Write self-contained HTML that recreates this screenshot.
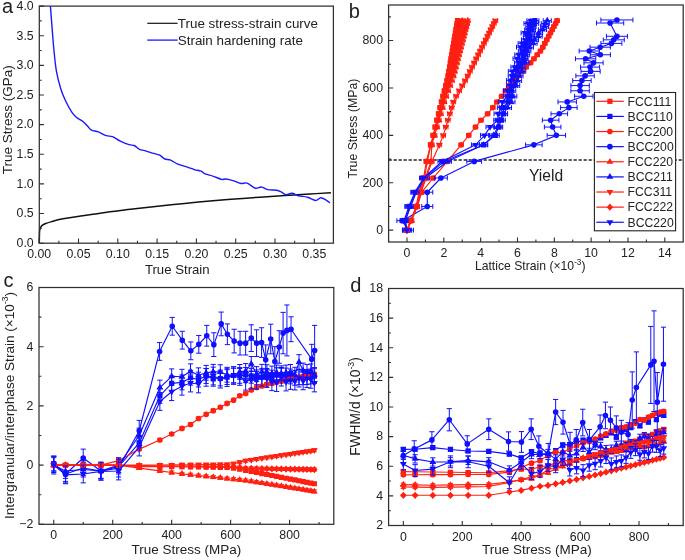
<!DOCTYPE html><html><head><meta charset="utf-8"><style>html,body{margin:0;padding:0;background:#fff;}svg{display:block;will-change:transform;}</style></head><body>
<svg width="685" height="560" viewBox="0 0 685 560" font-family='"Liberation Sans", sans-serif' fill="#222">
<rect width="685" height="560" fill="#fff"/>
<path d="M39.3 243.2C39.32 242 39.35 238.02 39.4 236C39.45 233.98 39.5 232.27 39.6 231.1C39.7 229.93 39.83 229.62 40 229C40.17 228.38 40.35 227.9 40.6 227.4C40.85 226.9 41.13 226.4 41.5 226C41.87 225.6 42.08 225.42 42.8 225C43.52 224.58 44.33 224.07 45.8 223.5C47.27 222.93 49.57 222.22 51.6 221.6C53.63 220.98 55.57 220.37 58 219.8C60.43 219.23 62.4 218.85 66.2 218.2C70 217.55 75.93 216.62 80.8 215.9C85.67 215.18 90.53 214.58 95.4 213.9C100.27 213.22 105.13 212.47 110 211.8C114.87 211.13 120.43 210.42 124.6 209.9C128.77 209.38 129.1 209.37 135 208.7C140.9 208.03 151.73 206.78 160 205.9C168.27 205.02 176.27 204.2 184.6 203.4C192.93 202.6 201.6 201.83 210 201.1C218.4 200.37 226.67 199.65 235 199C243.33 198.35 251.67 197.78 260 197.2C268.33 196.62 276.67 196.03 285 195.5C293.33 194.97 302.35 194.47 310 194C317.65 193.53 327.42 192.92 330.9 192.7" fill="none" stroke="#111" stroke-width="1.5" stroke-linejoin="round"/>
<path d="M50.4 6.1C50.68 9.73 51.52 20.62 52.1 27.9C52.68 35.18 53.17 42.5 53.9 49.8C54.63 57.1 55.33 65.13 56.5 71.7C57.67 78.27 59.43 84.45 60.9 89.2C62.37 93.95 63.48 96.37 65.3 100.2C67.12 104.03 70.02 109.4 71.8 112.2C73.58 115 74.63 115.77 76 117C77.37 118.23 78.75 118.78 80 119.6C81.25 120.42 82.18 120.73 83.5 121.9C84.82 123.07 86.58 125.23 87.9 126.6C89.22 127.97 89.65 129.22 91.4 130.1C93.15 130.98 95.92 130.97 98.4 131.9C100.88 132.83 103.97 134.92 106.3 135.7C108.63 136.48 110.07 135.68 112.4 136.6C114.73 137.52 117.53 139.85 120.3 141.2C123.07 142.55 126.67 143.98 129 144.7C131.33 145.42 132.55 144.72 134.3 145.5C136.05 146.28 137.75 148.55 139.5 149.4C141.25 150.25 142.45 149.93 144.8 150.6C147.15 151.27 151.12 152.63 153.6 153.4C156.08 154.17 157.82 154.27 159.7 155.2C161.58 156.13 163.15 158.22 164.9 159C166.65 159.78 168.15 159.08 170.2 159.9C172.25 160.72 174.72 162.82 177.2 163.9C179.68 164.98 182.62 165.6 185.1 166.4C187.58 167.2 190.45 168.13 192.1 168.7C193.75 169.27 193.5 169.38 195 169.8C196.5 170.22 199.4 170.52 201.1 171.2C202.8 171.88 203.15 173.05 205.2 173.9C207.25 174.75 210.67 175.38 213.4 176.3C216.13 177.22 219.55 178.95 221.6 179.4C223.65 179.85 223.67 178.77 225.7 179C227.73 179.23 231.25 180.05 233.8 180.8C236.35 181.55 238.78 183.12 241 183.5C243.22 183.88 244.72 182.32 247.1 183.1C249.48 183.88 252.92 187.55 255.3 188.2C257.68 188.85 259.35 186.77 261.4 187C263.45 187.23 265.05 189.07 267.6 189.6C270.15 190.13 274.5 189.85 276.7 190.2C278.9 190.55 279.27 190.95 280.8 191.7C282.33 192.45 284.02 194.43 285.9 194.7C287.78 194.97 290.05 193.12 292.1 193.3C294.15 193.48 295.65 195.15 298.2 195.8C300.75 196.45 304.5 196.42 307.4 197.2C310.3 197.98 313.38 200.4 315.6 200.5C317.82 200.6 319 197.9 320.7 197.8C322.4 197.7 324.27 199.05 325.8 199.9C327.33 200.75 329.22 202.4 329.9 202.9" fill="none" stroke="#1a1aff" stroke-width="1.4" stroke-linejoin="round"/>
<rect x="39.3" y="6.1" width="294.1" height="237.1" fill="none" stroke="#303030" stroke-width="1.25"/>
<path d="M39.2 243.2v-4.6 M78.5 243.2v-4.6 M117.8 243.2v-4.6 M157.1 243.2v-4.6 M196.4 243.2v-4.6 M235.7 243.2v-4.6 M275 243.2v-4.6 M314.3 243.2v-4.6 M58.85 243.2v-2.4 M98.15 243.2v-2.4 M137.45 243.2v-2.4 M176.75 243.2v-2.4 M216.05 243.2v-2.4 M255.35 243.2v-2.4 M294.65 243.2v-2.4 M39.3 243.2h4.6 M39.3 213.56h4.6 M39.3 183.92h4.6 M39.3 154.29h4.6 M39.3 124.65h4.6 M39.3 95.01h4.6 M39.3 65.38h4.6 M39.3 35.74h4.6 M39.3 6.1h4.6 M39.3 228.38h2.4 M39.3 198.74h2.4 M39.3 169.11h2.4 M39.3 139.47h2.4 M39.3 109.83h2.4 M39.3 80.19h2.4 M39.3 50.56h2.4 M39.3 20.92h2.4" stroke="#303030" stroke-width="1.1" fill="none"/>
<text x="39.2" y="257.8" text-anchor="middle" font-size="12.3">0.00</text>
<text x="78.5" y="257.8" text-anchor="middle" font-size="12.3">0.05</text>
<text x="117.8" y="257.8" text-anchor="middle" font-size="12.3">0.10</text>
<text x="157.1" y="257.8" text-anchor="middle" font-size="12.3">0.15</text>
<text x="196.4" y="257.8" text-anchor="middle" font-size="12.3">0.20</text>
<text x="235.7" y="257.8" text-anchor="middle" font-size="12.3">0.25</text>
<text x="275" y="257.8" text-anchor="middle" font-size="12.3">0.30</text>
<text x="314.3" y="257.8" text-anchor="middle" font-size="12.3">0.35</text>
<text x="33.7" y="247" text-anchor="end" font-size="12.3">0.0</text>
<text x="33.7" y="217.36" text-anchor="end" font-size="12.3">0.5</text>
<text x="33.7" y="187.72" text-anchor="end" font-size="12.3">1.0</text>
<text x="33.7" y="158.09" text-anchor="end" font-size="12.3">1.5</text>
<text x="33.7" y="128.45" text-anchor="end" font-size="12.3">2.0</text>
<text x="33.7" y="98.81" text-anchor="end" font-size="12.3">2.5</text>
<text x="33.7" y="69.17" text-anchor="end" font-size="12.3">3.0</text>
<text x="33.7" y="39.54" text-anchor="end" font-size="12.3">3.5</text>
<text x="33.7" y="9.9" text-anchor="end" font-size="12.3">4.0</text>
<path d="M147.3 23.3h30.3" stroke="#111" stroke-width="1.2"/>
<path d="M147.3 40.1h30.3" stroke="#1a1aff" stroke-width="1.3"/>
<text x="177.8" y="28.1" font-size="13.4">True stress-strain curve</text>
<text x="177.8" y="44.6" font-size="13.4">Strain hardening rate</text>
<text x="144.9" y="274.3" font-size="13.2">True Strain</text>
<text transform="translate(11.6,119.8) rotate(-90)" text-anchor="middle" font-size="13.5">True Stress (GPa)</text>
<text x="2" y="12.6" font-size="20">a</text>
<path d="M388.6 159.9H683.2" stroke="#222" stroke-width="1.5" stroke-dasharray="3.2 1.8"/>
<text x="529" y="181.4" font-size="15.6">Yield</text>
<path d="M407.01 230.15L410.7 220.67L416.22 206.45L418.98 192.23L423.58 178.01L426.35 161.42L430.58 144.83L433.16 135.35L435.23 127.06L436.95 120.18L438.56 113.78L440.1 107.62L441.52 101.93L442.99 96.25L444.42 90.79L445.78 85.58L447.08 80.6L448.17 75.86L448.95 71.36L449.68 67.09L450.41 62.83L451.1 58.8L451.79 54.77L452.44 50.98L453.09 47.19L453.74 43.39L454.35 39.84L454.96 36.28L455.53 32.97L456.1 29.65L456.63 26.57L457.16 23.49L457.65 20.64" fill="none" stroke="#ff2012" stroke-width="1.15" stroke-linejoin="round"/>
<path d="M404.8 230.15H409.22M404.8 227.75v4.8M409.22 227.75v4.8M408.49 220.67H412.9M408.49 218.27v4.8M412.9 218.27v4.8M414.01 206.45H418.43M414.01 204.05v4.8M418.43 204.05v4.8M416.77 192.23H421.19M416.77 189.83v4.8M421.19 189.83v4.8M421.37 178.01H425.79M421.37 175.61v4.8M425.79 175.61v4.8M424.14 161.42H428.56M424.14 159.02v4.8M428.56 159.02v4.8M428.37 144.83H432.79M428.37 142.43v4.8M432.79 142.43v4.8M430.95 135.35H435.37M430.95 132.95v4.8M435.37 132.95v4.8M433.02 127.06H437.44M433.02 124.66v4.8M437.44 124.66v4.8M434.74 120.18H439.16M434.74 117.78v4.8M439.16 117.78v4.8M436.35 113.78H440.77M436.35 111.38v4.8M440.77 111.38v4.8M437.89 107.62H442.31M437.89 105.22v4.8M442.31 105.22v4.8M439.31 101.93H443.73M439.31 99.53v4.8M443.73 99.53v4.8M440.78 96.25H445.2M440.78 93.84v4.8M445.2 93.84v4.8M442.21 90.79H446.62M442.21 88.39v4.8M446.62 88.39v4.8M443.57 85.58H447.99M443.57 83.18v4.8M447.99 83.18v4.8M444.87 80.6H449.29M444.87 78.2v4.8M449.29 78.2v4.8M445.96 75.86H450.38M445.96 73.46v4.8M450.38 73.46v4.8M446.74 71.36H451.15M446.74 68.96v4.8M451.15 68.96v4.8M447.47 67.09H451.89M447.47 64.69v4.8M451.89 64.69v4.8M448.2 62.83H452.62M448.2 60.43v4.8M452.62 60.43v4.8M448.89 58.8H453.31M448.89 56.4v4.8M453.31 56.4v4.8M449.58 54.77H454M449.58 52.37v4.8M454 52.37v4.8M450.23 50.98H454.65M450.23 48.58v4.8M454.65 48.58v4.8M450.88 47.19H455.3M450.88 44.79v4.8M455.3 44.79v4.8M451.53 43.39H455.95M451.53 40.99v4.8M455.95 40.99v4.8M452.14 39.84H456.56M452.14 37.44v4.8M456.56 37.44v4.8M452.75 36.28H457.17M452.75 33.88v4.8M457.17 33.88v4.8M453.32 32.97H457.74M453.32 30.57v4.8M457.74 30.57v4.8M453.89 29.65H458.31M453.89 27.25v4.8M458.31 27.25v4.8M454.42 26.57H458.84M454.42 24.17v4.8M458.84 24.17v4.8M454.95 23.49H459.37M454.95 21.09v4.8M459.37 21.09v4.8M455.44 20.64H459.86M455.44 18.24v4.8M459.86 18.24v4.8" fill="none" stroke="#ff2012" stroke-width="1"/>
<path d="M404.41 227.55h5.2v5.2h-5.2zM408.1 218.07h5.2v5.2h-5.2zM413.62 203.85h5.2v5.2h-5.2zM416.38 189.63h5.2v5.2h-5.2zM420.98 175.41h5.2v5.2h-5.2zM423.75 158.82h5.2v5.2h-5.2zM427.98 142.23h5.2v5.2h-5.2zM430.56 132.75h5.2v5.2h-5.2zM432.63 124.46h5.2v5.2h-5.2zM434.35 117.58h5.2v5.2h-5.2zM435.96 111.18h5.2v5.2h-5.2zM437.5 105.02h5.2v5.2h-5.2zM438.92 99.33h5.2v5.2h-5.2zM440.39 93.65h5.2v5.2h-5.2zM441.82 88.19h5.2v5.2h-5.2zM443.18 82.98h5.2v5.2h-5.2zM444.48 78h5.2v5.2h-5.2zM445.57 73.26h5.2v5.2h-5.2zM446.35 68.76h5.2v5.2h-5.2zM447.08 64.49h5.2v5.2h-5.2zM447.81 60.23h5.2v5.2h-5.2zM448.5 56.2h5.2v5.2h-5.2zM449.19 52.17h5.2v5.2h-5.2zM449.84 48.38h5.2v5.2h-5.2zM450.49 44.59h5.2v5.2h-5.2zM451.14 40.79h5.2v5.2h-5.2zM451.75 37.24h5.2v5.2h-5.2zM452.36 33.68h5.2v5.2h-5.2zM452.93 30.37h5.2v5.2h-5.2zM453.5 27.05h5.2v5.2h-5.2zM454.03 23.97h5.2v5.2h-5.2zM454.56 20.89h5.2v5.2h-5.2zM455.05 18.04h5.2v5.2h-5.2z" fill="#ff2012"/>
<path d="M407.01 230.15L405.17 220.67L409.77 206.45L415.3 192.23L424.5 178.01L443.84 161.42L483.61 144.83L495.21 135.35L498.63 127.06L501.19 120.18L503.41 113.78L503.44 107.62L508.15 101.93L510.03 96.25L509.57 90.79L513.28 85.58L512.82 80.6L514.88 75.86L517.27 71.36L518.35 67.09L522.22 62.83L523.92 58.8L523.56 54.77L524.78 50.98L525.17 47.19L526.17 43.39L529.52 39.84L530.09 36.28L529 32.97L531.49 29.65L532.05 26.57L534.55 23.49L534.86 20.64" fill="none" stroke="#1010ff" stroke-width="1.15" stroke-linejoin="round"/>
<path d="M402.96 230.15H411.06M402.96 227.75v4.8M411.06 227.75v4.8M401.12 220.67H409.22M401.12 218.27v4.8M409.22 218.27v4.8M405.72 206.45H413.83M405.72 204.05v4.8M413.83 204.05v4.8M411.25 192.23H419.35M411.25 189.83v4.8M419.35 189.83v4.8M420.45 178.01H428.56M420.45 175.61v4.8M428.56 175.61v4.8M439.79 161.42H447.89M439.79 159.02v4.8M447.89 159.02v4.8M479.56 144.83H487.66M479.56 142.43v4.8M487.66 142.43v4.8M491.16 135.35H499.26M491.16 132.95v4.8M499.26 132.95v4.8M494.57 127.06H502.68M494.57 124.66v4.8M502.68 124.66v4.8M497.14 120.18H505.24M497.14 117.78v4.8M505.24 117.78v4.8M499.36 113.78H507.46M499.36 111.38v4.8M507.46 111.38v4.8M499.39 107.62H507.5M499.39 105.22v4.8M507.5 105.22v4.8M504.1 101.93H512.2M504.1 99.53v4.8M512.2 99.53v4.8M505.98 96.25H514.08M505.98 93.84v4.8M514.08 93.84v4.8M505.52 90.79H513.62M505.52 88.39v4.8M513.62 88.39v4.8M509.23 85.58H517.33M509.23 83.18v4.8M517.33 83.18v4.8M508.77 80.6H516.87M508.77 78.2v4.8M516.87 78.2v4.8M510.83 75.86H518.93M510.83 73.46v4.8M518.93 73.46v4.8M513.22 71.36H521.32M513.22 68.96v4.8M521.32 68.96v4.8M514.29 67.09H522.4M514.29 64.69v4.8M522.4 64.69v4.8M518.17 62.83H526.27M518.17 60.43v4.8M526.27 60.43v4.8M519.87 58.8H527.97M519.87 56.4v4.8M527.97 56.4v4.8M519.51 54.77H527.62M519.51 52.37v4.8M527.62 52.37v4.8M520.73 50.98H528.83M520.73 48.58v4.8M528.83 48.58v4.8M521.12 47.19H529.22M521.12 44.79v4.8M529.22 44.79v4.8M522.12 43.39H530.23M522.12 40.99v4.8M530.23 40.99v4.8M525.46 39.84H533.57M525.46 37.44v4.8M533.57 37.44v4.8M526.03 36.28H534.14M526.03 33.88v4.8M534.14 33.88v4.8M524.95 32.97H533.05M524.95 30.57v4.8M533.05 30.57v4.8M527.43 29.65H535.54M527.43 27.25v4.8M535.54 27.25v4.8M528 26.57H536.1M528 24.17v4.8M536.1 24.17v4.8M530.5 23.49H538.6M530.5 21.09v4.8M538.6 21.09v4.8M530.81 20.64H538.91M530.81 18.24v4.8M538.91 18.24v4.8" fill="none" stroke="#1010ff" stroke-width="1"/>
<path d="M404.41 227.55h5.2v5.2h-5.2zM402.57 218.07h5.2v5.2h-5.2zM407.17 203.85h5.2v5.2h-5.2zM412.7 189.63h5.2v5.2h-5.2zM421.9 175.41h5.2v5.2h-5.2zM441.24 158.82h5.2v5.2h-5.2zM481.01 142.23h5.2v5.2h-5.2zM492.61 132.75h5.2v5.2h-5.2zM496.03 124.46h5.2v5.2h-5.2zM498.59 117.58h5.2v5.2h-5.2zM500.81 111.18h5.2v5.2h-5.2zM500.84 105.02h5.2v5.2h-5.2zM505.55 99.33h5.2v5.2h-5.2zM507.43 93.65h5.2v5.2h-5.2zM506.97 88.19h5.2v5.2h-5.2zM510.68 82.98h5.2v5.2h-5.2zM510.22 78h5.2v5.2h-5.2zM512.28 73.26h5.2v5.2h-5.2zM514.67 68.76h5.2v5.2h-5.2zM515.75 64.49h5.2v5.2h-5.2zM519.62 60.23h5.2v5.2h-5.2zM521.32 56.2h5.2v5.2h-5.2zM520.96 52.17h5.2v5.2h-5.2zM522.18 48.38h5.2v5.2h-5.2zM522.57 44.59h5.2v5.2h-5.2zM523.57 40.79h5.2v5.2h-5.2zM526.92 37.24h5.2v5.2h-5.2zM527.49 33.68h5.2v5.2h-5.2zM526.4 30.37h5.2v5.2h-5.2zM528.89 27.05h5.2v5.2h-5.2zM529.45 23.97h5.2v5.2h-5.2zM531.95 20.89h5.2v5.2h-5.2zM532.26 18.04h5.2v5.2h-5.2z" fill="#1010ff"/>
<path d="M407.01 230.15L410.7 220.67L417.32 206.45L421.74 192.23L433.16 178.01L447.34 161.42L461.15 144.83L468.69 135.35L475.51 127.06L481.02 120.18L487.6 113.78L492.79 107.62L496.92 101.93L501.6 96.25L505.46 90.79L509.04 85.58L515.09 80.6L518.78 75.86L522.39 71.36L526.14 67.09L530.56 62.83L533.92 58.8L537.28 54.77L540.45 50.98L542.77 47.19L544.82 43.39L546.73 39.84L548.65 36.28L550.43 32.97L552.22 29.65L553.88 26.57L555.54 23.49L557.07 20.64" fill="none" stroke="#ff2012" stroke-width="1.15" stroke-linejoin="round"/>
<path d="M404.8 230.15H409.22M404.8 227.75v4.8M409.22 227.75v4.8M408.49 220.67H412.9M408.49 218.27v4.8M412.9 218.27v4.8M415.11 206.45H419.53M415.11 204.05v4.8M419.53 204.05v4.8M419.53 192.23H423.95M419.53 189.83v4.8M423.95 189.83v4.8M430.95 178.01H435.37M430.95 175.61v4.8M435.37 175.61v4.8M445.13 161.42H449.55M445.13 159.02v4.8M449.55 159.02v4.8M458.94 144.83H463.35M458.94 142.43v4.8M463.35 142.43v4.8M466.48 135.35H470.9M466.48 132.95v4.8M470.9 132.95v4.8M473.3 127.06H477.72M473.3 124.66v4.8M477.72 124.66v4.8M478.82 120.18H483.23M478.82 117.78v4.8M483.23 117.78v4.8M485.39 113.78H489.81M485.39 111.38v4.8M489.81 111.38v4.8M490.58 107.62H495M490.58 105.22v4.8M495 105.22v4.8M494.71 101.93H499.13M494.71 99.53v4.8M499.13 99.53v4.8M499.4 96.25H503.81M499.4 93.84v4.8M503.81 93.84v4.8M503.25 90.79H507.67M503.25 88.39v4.8M507.67 88.39v4.8M506.83 85.58H511.25M506.83 83.18v4.8M511.25 83.18v4.8M512.88 80.6H517.3M512.88 78.2v4.8M517.3 78.2v4.8M516.57 75.86H520.99M516.57 73.46v4.8M520.99 73.46v4.8M520.19 71.36H524.6M520.19 68.96v4.8M524.6 68.96v4.8M523.93 67.09H528.35M523.93 64.69v4.8M528.35 64.69v4.8M528.35 62.83H532.77M528.35 60.43v4.8M532.77 60.43v4.8M531.71 58.8H536.13M531.71 56.4v4.8M536.13 56.4v4.8M535.07 54.77H539.49M535.07 52.37v4.8M539.49 52.37v4.8M538.24 50.98H542.66M538.24 48.58v4.8M542.66 48.58v4.8M540.56 47.19H544.98M540.56 44.79v4.8M544.98 44.79v4.8M542.61 43.39H547.02M542.61 40.99v4.8M547.02 40.99v4.8M544.52 39.84H548.94M544.52 37.44v4.8M548.94 37.44v4.8M546.44 36.28H550.86M546.44 33.88v4.8M550.86 33.88v4.8M548.22 32.97H552.64M548.22 30.57v4.8M552.64 30.57v4.8M550.01 29.65H554.43M550.01 27.25v4.8M554.43 27.25v4.8M551.67 26.57H556.09M551.67 24.17v4.8M556.09 24.17v4.8M553.33 23.49H557.75M553.33 21.09v4.8M557.75 21.09v4.8M554.86 20.64H559.28M554.86 18.24v4.8M559.28 18.24v4.8" fill="none" stroke="#ff2012" stroke-width="1"/>
<path d="M404.21 230.15a2.8 2.8 0 1 0 5.6 0a2.8 2.8 0 1 0 -5.6 0zM407.9 220.67a2.8 2.8 0 1 0 5.6 0a2.8 2.8 0 1 0 -5.6 0zM414.52 206.45a2.8 2.8 0 1 0 5.6 0a2.8 2.8 0 1 0 -5.6 0zM418.94 192.23a2.8 2.8 0 1 0 5.6 0a2.8 2.8 0 1 0 -5.6 0zM430.36 178.01a2.8 2.8 0 1 0 5.6 0a2.8 2.8 0 1 0 -5.6 0zM444.54 161.42a2.8 2.8 0 1 0 5.6 0a2.8 2.8 0 1 0 -5.6 0zM458.35 144.83a2.8 2.8 0 1 0 5.6 0a2.8 2.8 0 1 0 -5.6 0zM465.89 135.35a2.8 2.8 0 1 0 5.6 0a2.8 2.8 0 1 0 -5.6 0zM472.71 127.06a2.8 2.8 0 1 0 5.6 0a2.8 2.8 0 1 0 -5.6 0zM478.22 120.18a2.8 2.8 0 1 0 5.6 0a2.8 2.8 0 1 0 -5.6 0zM484.8 113.78a2.8 2.8 0 1 0 5.6 0a2.8 2.8 0 1 0 -5.6 0zM489.99 107.62a2.8 2.8 0 1 0 5.6 0a2.8 2.8 0 1 0 -5.6 0zM494.12 101.93a2.8 2.8 0 1 0 5.6 0a2.8 2.8 0 1 0 -5.6 0zM498.8 96.25a2.8 2.8 0 1 0 5.6 0a2.8 2.8 0 1 0 -5.6 0zM502.66 90.79a2.8 2.8 0 1 0 5.6 0a2.8 2.8 0 1 0 -5.6 0zM506.24 85.58a2.8 2.8 0 1 0 5.6 0a2.8 2.8 0 1 0 -5.6 0zM512.29 80.6a2.8 2.8 0 1 0 5.6 0a2.8 2.8 0 1 0 -5.6 0zM515.98 75.86a2.8 2.8 0 1 0 5.6 0a2.8 2.8 0 1 0 -5.6 0zM519.59 71.36a2.8 2.8 0 1 0 5.6 0a2.8 2.8 0 1 0 -5.6 0zM523.34 67.09a2.8 2.8 0 1 0 5.6 0a2.8 2.8 0 1 0 -5.6 0zM527.76 62.83a2.8 2.8 0 1 0 5.6 0a2.8 2.8 0 1 0 -5.6 0zM531.12 58.8a2.8 2.8 0 1 0 5.6 0a2.8 2.8 0 1 0 -5.6 0zM534.48 54.77a2.8 2.8 0 1 0 5.6 0a2.8 2.8 0 1 0 -5.6 0zM537.65 50.98a2.8 2.8 0 1 0 5.6 0a2.8 2.8 0 1 0 -5.6 0zM539.97 47.19a2.8 2.8 0 1 0 5.6 0a2.8 2.8 0 1 0 -5.6 0zM542.02 43.39a2.8 2.8 0 1 0 5.6 0a2.8 2.8 0 1 0 -5.6 0zM543.93 39.84a2.8 2.8 0 1 0 5.6 0a2.8 2.8 0 1 0 -5.6 0zM545.85 36.28a2.8 2.8 0 1 0 5.6 0a2.8 2.8 0 1 0 -5.6 0zM547.63 32.97a2.8 2.8 0 1 0 5.6 0a2.8 2.8 0 1 0 -5.6 0zM549.42 29.65a2.8 2.8 0 1 0 5.6 0a2.8 2.8 0 1 0 -5.6 0zM551.08 26.57a2.8 2.8 0 1 0 5.6 0a2.8 2.8 0 1 0 -5.6 0zM552.74 23.49a2.8 2.8 0 1 0 5.6 0a2.8 2.8 0 1 0 -5.6 0zM554.27 20.64a2.8 2.8 0 1 0 5.6 0a2.8 2.8 0 1 0 -5.6 0z" fill="#ff2012"/>
<path d="M407.93 230.15L402.41 220.67L427.27 206.45L427.27 192.23L440.89 178.01L474.22 161.42L533.87 144.83L556.34 135.35L552.66 127.06L550.63 120.18L559.28 113.78L568.86 107.62L567.2 101.93L583.77 96.25L580.09 90.79L580.09 85.58L581.93 80.6L585.06 75.86L590.59 71.36L590.03 67.09L593.53 62.83L585.61 58.8L600.34 54.77L589.3 50.98L600.16 47.19L611.39 43.39L613.78 39.84L616.92 36.28L610.1 23.01L616.92 19.93" fill="none" stroke="#1010ff" stroke-width="1.15" stroke-linejoin="round"/>
<path d="M402.41 230.15H413.46M402.41 227.75v4.8M413.46 227.75v4.8M396.89 220.67H407.93M396.89 218.27v4.8M407.93 218.27v4.8M421.74 206.45H432.79M421.74 204.05v4.8M432.79 204.05v4.8M421.74 192.23H432.79M421.74 189.83v4.8M432.79 189.83v4.8M434.45 178.01H447.34M434.45 175.61v4.8M447.34 175.61v4.8M466.85 161.42H481.58M466.85 159.02v4.8M481.58 159.02v4.8M525.59 144.83H542.16M525.59 142.43v4.8M542.16 142.43v4.8M547.13 135.35H565.54M547.13 132.95v4.8M565.54 132.95v4.8M544.37 127.06H560.94M544.37 124.66v4.8M560.94 124.66v4.8M542.34 120.18H558.92M542.34 117.78v4.8M558.92 117.78v4.8M551 113.78H567.57M551 111.38v4.8M567.57 111.38v4.8M560.57 107.62H577.14M560.57 105.22v4.8M577.14 105.22v4.8M558 101.93H576.41M558 99.53v4.8M576.41 99.53v4.8M574.57 96.25H592.98M574.57 93.84v4.8M592.98 93.84v4.8M570.88 90.79H589.3M570.88 88.39v4.8M589.3 88.39v4.8M570.88 85.58H589.3M570.88 83.18v4.8M589.3 83.18v4.8M572.73 80.6H591.14M572.73 78.2v4.8M591.14 78.2v4.8M575.86 75.86H594.27M575.86 73.46v4.8M594.27 73.46v4.8M581.01 71.36H600.16M581.01 68.96v4.8M600.16 68.96v4.8M580.46 67.09H599.61M580.46 64.69v4.8M599.61 64.69v4.8M583.96 62.83H603.11M583.96 60.43v4.8M603.11 60.43v4.8M575.49 58.8H595.74M575.49 56.4v4.8M595.74 56.4v4.8M590.22 54.77H610.47M590.22 52.37v4.8M610.47 52.37v4.8M579.17 50.98H599.42M579.17 48.58v4.8M599.42 48.58v4.8M590.03 47.19H610.29M590.03 44.79v4.8M610.29 44.79v4.8M600.9 43.39H621.89M600.9 40.99v4.8M621.89 40.99v4.8M603.29 39.84H624.28M603.29 37.44v4.8M624.28 37.44v4.8M606.42 36.28H627.41M606.42 33.88v4.8M627.41 33.88v4.8M596.48 23.01H623.73M596.48 20.61v4.8M623.73 20.61v4.8M600.9 19.93H632.93M600.9 17.53v4.8M632.93 17.53v4.8" fill="none" stroke="#1010ff" stroke-width="1"/>
<path d="M405.13 230.15a2.8 2.8 0 1 0 5.6 0a2.8 2.8 0 1 0 -5.6 0zM399.61 220.67a2.8 2.8 0 1 0 5.6 0a2.8 2.8 0 1 0 -5.6 0zM424.47 206.45a2.8 2.8 0 1 0 5.6 0a2.8 2.8 0 1 0 -5.6 0zM424.47 192.23a2.8 2.8 0 1 0 5.6 0a2.8 2.8 0 1 0 -5.6 0zM438.09 178.01a2.8 2.8 0 1 0 5.6 0a2.8 2.8 0 1 0 -5.6 0zM471.42 161.42a2.8 2.8 0 1 0 5.6 0a2.8 2.8 0 1 0 -5.6 0zM531.07 144.83a2.8 2.8 0 1 0 5.6 0a2.8 2.8 0 1 0 -5.6 0zM553.54 135.35a2.8 2.8 0 1 0 5.6 0a2.8 2.8 0 1 0 -5.6 0zM549.86 127.06a2.8 2.8 0 1 0 5.6 0a2.8 2.8 0 1 0 -5.6 0zM547.83 120.18a2.8 2.8 0 1 0 5.6 0a2.8 2.8 0 1 0 -5.6 0zM556.48 113.78a2.8 2.8 0 1 0 5.6 0a2.8 2.8 0 1 0 -5.6 0zM566.06 107.62a2.8 2.8 0 1 0 5.6 0a2.8 2.8 0 1 0 -5.6 0zM564.4 101.93a2.8 2.8 0 1 0 5.6 0a2.8 2.8 0 1 0 -5.6 0zM580.97 96.25a2.8 2.8 0 1 0 5.6 0a2.8 2.8 0 1 0 -5.6 0zM577.29 90.79a2.8 2.8 0 1 0 5.6 0a2.8 2.8 0 1 0 -5.6 0zM577.29 85.58a2.8 2.8 0 1 0 5.6 0a2.8 2.8 0 1 0 -5.6 0zM579.13 80.6a2.8 2.8 0 1 0 5.6 0a2.8 2.8 0 1 0 -5.6 0zM582.26 75.86a2.8 2.8 0 1 0 5.6 0a2.8 2.8 0 1 0 -5.6 0zM587.79 71.36a2.8 2.8 0 1 0 5.6 0a2.8 2.8 0 1 0 -5.6 0zM587.23 67.09a2.8 2.8 0 1 0 5.6 0a2.8 2.8 0 1 0 -5.6 0zM590.73 62.83a2.8 2.8 0 1 0 5.6 0a2.8 2.8 0 1 0 -5.6 0zM582.81 58.8a2.8 2.8 0 1 0 5.6 0a2.8 2.8 0 1 0 -5.6 0zM597.54 54.77a2.8 2.8 0 1 0 5.6 0a2.8 2.8 0 1 0 -5.6 0zM586.5 50.98a2.8 2.8 0 1 0 5.6 0a2.8 2.8 0 1 0 -5.6 0zM597.36 47.19a2.8 2.8 0 1 0 5.6 0a2.8 2.8 0 1 0 -5.6 0zM608.59 43.39a2.8 2.8 0 1 0 5.6 0a2.8 2.8 0 1 0 -5.6 0zM610.98 39.84a2.8 2.8 0 1 0 5.6 0a2.8 2.8 0 1 0 -5.6 0zM614.12 36.28a2.8 2.8 0 1 0 5.6 0a2.8 2.8 0 1 0 -5.6 0zM607.3 23.01a2.8 2.8 0 1 0 5.6 0a2.8 2.8 0 1 0 -5.6 0zM614.12 19.93a2.8 2.8 0 1 0 5.6 0a2.8 2.8 0 1 0 -5.6 0z" fill="#1010ff"/>
<path d="M407.01 230.15L411.62 220.67L417.14 206.45L420.82 192.23L425.43 178.01L430.95 161.42L431.87 144.83L434.63 135.35L437.01 127.06L438.98 120.18L440.82 113.78L442.58 107.62L444.21 101.93L446.15 96.25L448.16 90.79L450.08 85.58L451.91 80.6L453.47 75.86L454.64 71.36L455.74 67.09L456.85 62.83L457.89 58.8L458.94 54.77L459.92 50.98L460.9 47.19L461.88 43.39L462.8 39.84L463.72 36.28L464.58 32.97L465.44 29.65L466.24 26.57L467.04 23.49L467.77 20.64" fill="none" stroke="#ff2012" stroke-width="1.15" stroke-linejoin="round"/>
<path d="M404.8 230.15H409.22M404.8 227.75v4.8M409.22 227.75v4.8M409.41 220.67H413.83M409.41 218.27v4.8M413.83 218.27v4.8M414.93 206.45H419.35M414.93 204.05v4.8M419.35 204.05v4.8M418.61 192.23H423.03M418.61 189.83v4.8M423.03 189.83v4.8M423.22 178.01H427.63M423.22 175.61v4.8M427.63 175.61v4.8M428.74 161.42H433.16M428.74 159.02v4.8M433.16 159.02v4.8M429.66 144.83H434.08M429.66 142.43v4.8M434.08 142.43v4.8M432.42 135.35H436.84M432.42 132.95v4.8M436.84 132.95v4.8M434.8 127.06H439.22M434.8 124.66v4.8M439.22 124.66v4.8M436.77 120.18H441.19M436.77 117.78v4.8M441.19 117.78v4.8M438.61 113.78H443.03M438.61 111.38v4.8M443.03 111.38v4.8M440.37 107.62H444.79M440.37 105.22v4.8M444.79 105.22v4.8M442 101.93H446.42M442 99.53v4.8M446.42 99.53v4.8M443.94 96.25H448.36M443.94 93.84v4.8M448.36 93.84v4.8M445.95 90.79H450.37M445.95 88.39v4.8M450.37 88.39v4.8M447.87 85.58H452.29M447.87 83.18v4.8M452.29 83.18v4.8M449.7 80.6H454.12M449.7 78.2v4.8M454.12 78.2v4.8M451.26 75.86H455.68M451.26 73.46v4.8M455.68 73.46v4.8M452.43 71.36H456.85M452.43 68.96v4.8M456.85 68.96v4.8M453.53 67.09H457.95M453.53 64.69v4.8M457.95 64.69v4.8M454.64 62.83H459.06M454.64 60.43v4.8M459.06 60.43v4.8M455.68 58.8H460.1M455.68 56.4v4.8M460.1 56.4v4.8M456.73 54.77H461.15M456.73 52.37v4.8M461.15 52.37v4.8M457.71 50.98H462.13M457.71 48.58v4.8M462.13 48.58v4.8M458.69 47.19H463.11M458.69 44.79v4.8M463.11 44.79v4.8M459.67 43.39H464.09M459.67 40.99v4.8M464.09 40.99v4.8M460.59 39.84H465.01M460.59 37.44v4.8M465.01 37.44v4.8M461.51 36.28H465.93M461.51 33.88v4.8M465.93 33.88v4.8M462.37 32.97H466.79M462.37 30.57v4.8M466.79 30.57v4.8M463.23 29.65H467.65M463.23 27.25v4.8M467.65 27.25v4.8M464.03 26.57H468.45M464.03 24.17v4.8M468.45 24.17v4.8M464.83 23.49H469.25M464.83 21.09v4.8M469.25 21.09v4.8M465.56 20.64H469.98M465.56 18.24v4.8M469.98 18.24v4.8" fill="none" stroke="#ff2012" stroke-width="1"/>
<path d="M407.01 226.35L410.41 232.1L403.61 232.1zM411.62 216.87L415.02 222.62L408.22 222.62zM417.14 202.65L420.54 208.4L413.74 208.4zM420.82 188.43L424.22 194.18L417.42 194.18zM425.43 174.21L428.82 179.96L422.03 179.96zM430.95 157.62L434.35 163.37L427.55 163.37zM431.87 141.03L435.27 146.78L428.47 146.78zM434.63 131.55L438.03 137.3L431.23 137.3zM437.01 123.26L440.41 129L433.61 129zM438.98 116.38L442.38 122.13L435.58 122.13zM440.82 109.98L444.22 115.73L437.42 115.73zM442.58 103.82L445.98 109.57L439.18 109.57zM444.21 98.13L447.61 103.88L440.81 103.88zM446.15 92.45L449.55 98.2L442.75 98.2zM448.16 86.99L451.56 92.74L444.76 92.74zM450.08 81.78L453.48 87.53L446.68 87.53zM451.91 76.8L455.31 82.55L448.51 82.55zM453.47 72.06L456.87 77.81L450.07 77.81zM454.64 67.56L458.04 73.31L451.24 73.31zM455.74 63.29L459.14 69.04L452.34 69.04zM456.85 59.03L460.25 64.78L453.45 64.78zM457.89 55L461.29 60.75L454.49 60.75zM458.94 50.97L462.34 56.72L455.54 56.72zM459.92 47.18L463.32 52.93L456.52 52.93zM460.9 43.39L464.3 49.14L457.5 49.14zM461.88 39.59L465.28 45.34L458.48 45.34zM462.8 36.04L466.2 41.79L459.4 41.79zM463.72 32.48L467.12 38.23L460.32 38.23zM464.58 29.17L467.98 34.92L461.18 34.92zM465.44 25.85L468.84 31.6L462.04 31.6zM466.24 22.77L469.64 28.52L462.84 28.52zM467.04 19.69L470.44 25.44L463.64 25.44zM467.77 16.84L471.17 22.59L464.37 22.59z" fill="#ff2012"/>
<path d="M407.01 230.15L405.17 220.67L410.7 206.45L416.22 192.23L425.43 178.01L447.52 161.42L483.61 144.83L493.55 135.35L497.92 127.06L499.42 120.18L503.54 113.78L507.44 107.62L510.93 101.93L512.78 96.25L511.73 90.79L515.63 85.58L517.54 80.6L519 75.86L521.7 71.36L521.12 67.09L525 62.83L523.74 58.8L525.55 54.77L526.79 50.98L529.49 47.19L533.03 43.39L534.45 39.84L538.18 36.28L538.54 32.97L542.48 29.65L544.5 26.57L545.26 23.49L547.26 20.64" fill="none" stroke="#1010ff" stroke-width="1.15" stroke-linejoin="round"/>
<path d="M402.96 230.15H411.06M402.96 227.75v4.8M411.06 227.75v4.8M401.12 220.67H409.22M401.12 218.27v4.8M409.22 218.27v4.8M406.64 206.45H414.75M406.64 204.05v4.8M414.75 204.05v4.8M412.17 192.23H420.27M412.17 189.83v4.8M420.27 189.83v4.8M421.37 178.01H429.48M421.37 175.61v4.8M429.48 175.61v4.8M443.47 161.42H451.57M443.47 159.02v4.8M451.57 159.02v4.8M479.56 144.83H487.66M479.56 142.43v4.8M487.66 142.43v4.8M489.5 135.35H497.6M489.5 132.95v4.8M497.6 132.95v4.8M493.87 127.06H501.97M493.87 124.66v4.8M501.97 124.66v4.8M495.37 120.18H503.47M495.37 117.78v4.8M503.47 117.78v4.8M499.49 113.78H507.59M499.49 111.38v4.8M507.59 111.38v4.8M503.39 107.62H511.5M503.39 105.22v4.8M511.5 105.22v4.8M506.88 101.93H514.98M506.88 99.53v4.8M514.98 99.53v4.8M508.73 96.25H516.83M508.73 93.84v4.8M516.83 93.84v4.8M507.68 90.79H515.78M507.68 88.39v4.8M515.78 88.39v4.8M511.58 85.58H519.68M511.58 83.18v4.8M519.68 83.18v4.8M513.49 80.6H521.59M513.49 78.2v4.8M521.59 78.2v4.8M514.95 75.86H523.05M514.95 73.46v4.8M523.05 73.46v4.8M517.65 71.36H525.75M517.65 68.96v4.8M525.75 68.96v4.8M517.07 67.09H525.17M517.07 64.69v4.8M525.17 64.69v4.8M520.95 62.83H529.05M520.95 60.43v4.8M529.05 60.43v4.8M519.69 58.8H527.79M519.69 56.4v4.8M527.79 56.4v4.8M521.5 54.77H529.61M521.5 52.37v4.8M529.61 52.37v4.8M522.74 50.98H530.85M522.74 48.58v4.8M530.85 48.58v4.8M525.44 47.19H533.54M525.44 44.79v4.8M533.54 44.79v4.8M528.98 43.39H537.08M528.98 40.99v4.8M537.08 40.99v4.8M530.4 39.84H538.5M530.4 37.44v4.8M538.5 37.44v4.8M534.13 36.28H542.23M534.13 33.88v4.8M542.23 33.88v4.8M534.49 32.97H542.6M534.49 30.57v4.8M542.6 30.57v4.8M538.43 29.65H546.53M538.43 27.25v4.8M546.53 27.25v4.8M540.45 26.57H548.56M540.45 24.17v4.8M548.56 24.17v4.8M541.21 23.49H549.31M541.21 21.09v4.8M549.31 21.09v4.8M543.21 20.64H551.31M543.21 18.24v4.8M551.31 18.24v4.8" fill="none" stroke="#1010ff" stroke-width="1"/>
<path d="M407.01 226.35L410.41 232.1L403.61 232.1zM405.17 216.87L408.57 222.62L401.77 222.62zM410.7 202.65L414.1 208.4L407.3 208.4zM416.22 188.43L419.62 194.18L412.82 194.18zM425.43 174.21L428.82 179.96L422.03 179.96zM447.52 157.62L450.92 163.37L444.12 163.37zM483.61 141.03L487.01 146.78L480.21 146.78zM493.55 131.55L496.95 137.3L490.15 137.3zM497.92 123.26L501.32 129L494.52 129zM499.42 116.38L502.82 122.13L496.02 122.13zM503.54 109.98L506.94 115.73L500.14 115.73zM507.44 103.82L510.84 109.57L504.04 109.57zM510.93 98.13L514.33 103.88L507.53 103.88zM512.78 92.45L516.18 98.2L509.38 98.2zM511.73 86.99L515.13 92.74L508.33 92.74zM515.63 81.78L519.03 87.53L512.23 87.53zM517.54 76.8L520.94 82.55L514.14 82.55zM519 72.06L522.4 77.81L515.6 77.81zM521.7 67.56L525.1 73.31L518.3 73.31zM521.12 63.29L524.52 69.04L517.72 69.04zM525 59.03L528.4 64.78L521.6 64.78zM523.74 55L527.14 60.75L520.34 60.75zM525.55 50.97L528.95 56.72L522.15 56.72zM526.79 47.18L530.19 52.93L523.39 52.93zM529.49 43.39L532.89 49.14L526.09 49.14zM533.03 39.59L536.43 45.34L529.63 45.34zM534.45 36.04L537.85 41.79L531.05 41.79zM538.18 32.48L541.58 38.23L534.78 38.23zM538.54 29.17L541.94 34.92L535.14 34.92zM542.48 25.85L545.88 31.6L539.08 31.6zM544.5 22.77L547.9 28.52L541.1 28.52zM545.26 19.69L548.66 25.44L541.86 25.44zM547.26 16.84L550.66 22.59L543.86 22.59z" fill="#1010ff"/>
<path d="M407.01 230.15L410.7 220.67L417.14 206.45L420.82 192.23L426.35 178.01L431.87 161.42L439.42 144.83L443.29 135.35L445.79 127.06L447.87 120.18L449.81 113.78L451.67 107.62L453.39 101.93L456.14 96.25L459.26 90.79L462.24 85.58L465.09 80.6L467.69 75.86L469.94 71.36L472.09 67.09L474.23 62.83L476.25 58.8L478.27 54.77L480.17 50.98L482.07 47.19L483.98 43.39L485.76 39.84L487.54 36.28L489.21 32.97L490.87 29.65L492.42 26.57L493.97 23.49L495.39 20.64" fill="none" stroke="#ff2012" stroke-width="1.15" stroke-linejoin="round"/>
<path d="M404.8 230.15H409.22M404.8 227.75v4.8M409.22 227.75v4.8M408.49 220.67H412.9M408.49 218.27v4.8M412.9 218.27v4.8M414.93 206.45H419.35M414.93 204.05v4.8M419.35 204.05v4.8M418.61 192.23H423.03M418.61 189.83v4.8M423.03 189.83v4.8M424.14 178.01H428.56M424.14 175.61v4.8M428.56 175.61v4.8M429.66 161.42H434.08M429.66 159.02v4.8M434.08 159.02v4.8M437.21 144.83H441.63M437.21 142.43v4.8M441.63 142.43v4.8M441.08 135.35H445.49M441.08 132.95v4.8M445.49 132.95v4.8M443.58 127.06H448M443.58 124.66v4.8M448 124.66v4.8M445.66 120.18H450.08M445.66 117.78v4.8M450.08 117.78v4.8M447.6 113.78H452.02M447.6 111.38v4.8M452.02 111.38v4.8M449.46 107.62H453.88M449.46 105.22v4.8M453.88 105.22v4.8M451.18 101.93H455.6M451.18 99.53v4.8M455.6 99.53v4.8M453.93 96.25H458.34M453.93 93.84v4.8M458.34 93.84v4.8M457.05 90.79H461.47M457.05 88.39v4.8M461.47 88.39v4.8M460.03 85.58H464.45M460.03 83.18v4.8M464.45 83.18v4.8M462.88 80.6H467.3M462.88 78.2v4.8M467.3 78.2v4.8M465.48 75.86H469.9M465.48 73.46v4.8M469.9 73.46v4.8M467.74 71.36H472.15M467.74 68.96v4.8M472.15 68.96v4.8M469.88 67.09H474.29M469.88 64.69v4.8M474.29 64.69v4.8M472.02 62.83H476.44M472.02 60.43v4.8M476.44 60.43v4.8M474.04 58.8H478.46M474.04 56.4v4.8M478.46 56.4v4.8M476.06 54.77H480.48M476.06 52.37v4.8M480.48 52.37v4.8M477.96 50.98H482.38M477.96 48.58v4.8M482.38 48.58v4.8M479.86 47.19H484.28M479.86 44.79v4.8M484.28 44.79v4.8M481.77 43.39H486.19M481.77 40.99v4.8M486.19 40.99v4.8M483.55 39.84H487.97M483.55 37.44v4.8M487.97 37.44v4.8M485.33 36.28H489.75M485.33 33.88v4.8M489.75 33.88v4.8M487 32.97H491.42M487 30.57v4.8M491.42 30.57v4.8M488.66 29.65H493.08M488.66 27.25v4.8M493.08 27.25v4.8M490.21 26.57H494.63M490.21 24.17v4.8M494.63 24.17v4.8M491.76 23.49H496.18M491.76 21.09v4.8M496.18 21.09v4.8M493.18 20.64H497.6M493.18 18.24v4.8M497.6 18.24v4.8" fill="none" stroke="#ff2012" stroke-width="1"/>
<path d="M407.01 233.95L410.41 228.2L403.61 228.2zM410.7 224.47L414.1 218.72L407.3 218.72zM417.14 210.25L420.54 204.5L413.74 204.5zM420.82 196.03L424.22 190.28L417.42 190.28zM426.35 181.81L429.75 176.06L422.95 176.06zM431.87 165.22L435.27 159.47L428.47 159.47zM439.42 148.63L442.82 142.88L436.02 142.88zM443.29 139.15L446.69 133.4L439.89 133.4zM445.79 130.86L449.19 125.11L442.39 125.11zM447.87 123.98L451.27 118.23L444.47 118.23zM449.81 117.58L453.21 111.83L446.41 111.83zM451.67 111.42L455.07 105.67L448.27 105.67zM453.39 105.73L456.79 99.98L449.99 99.98zM456.14 100.05L459.54 94.3L452.74 94.3zM459.26 94.59L462.66 88.84L455.86 88.84zM462.24 89.38L465.64 83.63L458.84 83.63zM465.09 84.4L468.49 78.65L461.69 78.65zM467.69 79.66L471.09 73.91L464.29 73.91zM469.94 75.16L473.34 69.41L466.54 69.41zM472.09 70.89L475.49 65.14L468.69 65.14zM474.23 66.63L477.63 60.88L470.83 60.88zM476.25 62.6L479.65 56.85L472.85 56.85zM478.27 58.57L481.67 52.82L474.87 52.82zM480.17 54.78L483.57 49.03L476.77 49.03zM482.07 50.99L485.47 45.24L478.67 45.24zM483.98 47.19L487.38 41.44L480.58 41.44zM485.76 43.64L489.16 37.89L482.36 37.89zM487.54 40.08L490.94 34.33L484.14 34.33zM489.21 36.77L492.61 31.02L485.81 31.02zM490.87 33.45L494.27 27.7L487.47 27.7zM492.42 30.37L495.82 24.62L489.02 24.62zM493.97 27.29L497.37 21.54L490.57 21.54zM495.39 24.44L498.79 18.69L491.99 18.69z" fill="#ff2012"/>
<path d="M407.01 230.15L410.7 220.67L416.22 206.45L419.9 192.23L424.5 178.01L427.27 161.42L430.95 144.83L433.71 135.35L435.87 127.06L437.66 120.18L439.33 113.78L440.94 107.62L442.42 101.93L444.16 96.25L445.94 90.79L447.65 85.58L449.27 80.6L450.63 75.86L451.58 71.36L452.48 67.09L453.37 62.83L454.22 58.8L455.07 54.77L455.87 50.98L456.66 47.19L457.46 43.39L458.21 39.84L458.96 36.28L459.66 32.97L460.36 29.65L461 26.57L461.65 23.49L462.25 20.64" fill="none" stroke="#ff2012" stroke-width="1.15" stroke-linejoin="round"/>
<path d="M404.8 230.15H409.22M404.8 227.75v4.8M409.22 227.75v4.8M408.49 220.67H412.9M408.49 218.27v4.8M412.9 218.27v4.8M414.01 206.45H418.43M414.01 204.05v4.8M418.43 204.05v4.8M417.69 192.23H422.11M417.69 189.83v4.8M422.11 189.83v4.8M422.29 178.01H426.71M422.29 175.61v4.8M426.71 175.61v4.8M425.06 161.42H429.48M425.06 159.02v4.8M429.48 159.02v4.8M428.74 144.83H433.16M428.74 142.43v4.8M433.16 142.43v4.8M431.5 135.35H435.92M431.5 132.95v4.8M435.92 132.95v4.8M433.66 127.06H438.08M433.66 124.66v4.8M438.08 124.66v4.8M435.46 120.18H439.87M435.46 117.78v4.8M439.87 117.78v4.8M437.12 113.78H441.54M437.12 111.38v4.8M441.54 111.38v4.8M438.73 107.62H443.15M438.73 105.22v4.8M443.15 105.22v4.8M440.21 101.93H444.63M440.21 99.53v4.8M444.63 99.53v4.8M441.95 96.25H446.37M441.95 93.84v4.8M446.37 93.84v4.8M443.73 90.79H448.15M443.73 88.39v4.8M448.15 88.39v4.8M445.44 85.58H449.86M445.44 83.18v4.8M449.86 83.18v4.8M447.06 80.6H451.48M447.06 78.2v4.8M451.48 78.2v4.8M448.42 75.86H452.84M448.42 73.46v4.8M452.84 73.46v4.8M449.37 71.36H453.79M449.37 68.96v4.8M453.79 68.96v4.8M450.27 67.09H454.69M450.27 64.69v4.8M454.69 64.69v4.8M451.16 62.83H455.58M451.16 60.43v4.8M455.58 60.43v4.8M452.01 58.8H456.43M452.01 56.4v4.8M456.43 56.4v4.8M452.86 54.77H457.28M452.86 52.37v4.8M457.28 52.37v4.8M453.66 50.98H458.08M453.66 48.58v4.8M458.08 48.58v4.8M454.46 47.19H458.87M454.46 44.79v4.8M458.87 44.79v4.8M455.25 43.39H459.67M455.25 40.99v4.8M459.67 40.99v4.8M456 39.84H460.42M456 37.44v4.8M460.42 37.44v4.8M456.75 36.28H461.17M456.75 33.88v4.8M461.17 33.88v4.8M457.45 32.97H461.87M457.45 30.57v4.8M461.87 30.57v4.8M458.15 29.65H462.56M458.15 27.25v4.8M462.56 27.25v4.8M458.79 26.57H463.21M458.79 24.17v4.8M463.21 24.17v4.8M459.44 23.49H463.86M459.44 21.09v4.8M463.86 21.09v4.8M460.04 20.64H464.46M460.04 18.24v4.8M464.46 18.24v4.8" fill="none" stroke="#ff2012" stroke-width="1"/>
<path d="M407.01 226.55L410.21 230.15L407.01 233.75L403.81 230.15zM410.7 217.07L413.9 220.67L410.7 224.27L407.5 220.67zM416.22 202.85L419.42 206.45L416.22 210.05L413.02 206.45zM419.9 188.63L423.1 192.23L419.9 195.83L416.7 192.23zM424.5 174.41L427.7 178.01L424.5 181.61L421.3 178.01zM427.27 157.82L430.47 161.42L427.27 165.02L424.07 161.42zM430.95 141.23L434.15 144.83L430.95 148.43L427.75 144.83zM433.71 131.75L436.91 135.35L433.71 138.95L430.51 135.35zM435.87 123.46L439.07 127.06L435.87 130.66L432.67 127.06zM437.66 116.58L440.86 120.18L437.66 123.78L434.46 120.18zM439.33 110.18L442.53 113.78L439.33 117.38L436.13 113.78zM440.94 104.02L444.14 107.62L440.94 111.22L437.74 107.62zM442.42 98.33L445.62 101.93L442.42 105.53L439.22 101.93zM444.16 92.65L447.36 96.25L444.16 99.84L440.96 96.25zM445.94 87.19L449.14 90.79L445.94 94.39L442.74 90.79zM447.65 81.98L450.85 85.58L447.65 89.18L444.45 85.58zM449.27 77L452.47 80.6L449.27 84.2L446.07 80.6zM450.63 72.26L453.83 75.86L450.63 79.46L447.43 75.86zM451.58 67.76L454.78 71.36L451.58 74.96L448.38 71.36zM452.48 63.49L455.68 67.09L452.48 70.69L449.28 67.09zM453.37 59.23L456.57 62.83L453.37 66.43L450.17 62.83zM454.22 55.2L457.42 58.8L454.22 62.4L451.02 58.8zM455.07 51.17L458.27 54.77L455.07 58.37L451.87 54.77zM455.87 47.38L459.07 50.98L455.87 54.58L452.67 50.98zM456.66 43.59L459.86 47.19L456.66 50.79L453.46 47.19zM457.46 39.79L460.66 43.39L457.46 46.99L454.26 43.39zM458.21 36.24L461.41 39.84L458.21 43.44L455.01 39.84zM458.96 32.68L462.16 36.28L458.96 39.88L455.76 36.28zM459.66 29.37L462.86 32.97L459.66 36.57L456.46 32.97zM460.36 26.05L463.56 29.65L460.36 33.25L457.16 29.65zM461 22.97L464.2 26.57L461 30.17L457.8 26.57zM461.65 19.89L464.85 23.49L461.65 27.09L458.45 23.49zM462.25 17.04L465.45 20.64L462.25 24.24L459.05 20.64z" fill="#ff2012"/>
<path d="M407.01 230.15L404.07 220.67L408.85 206.45L414.93 192.23L423.58 178.01L442 161.42L475.51 144.83L484.53 135.35L490.06 127.06L497.79 120.18L498.09 113.78L501.38 107.62L502.31 101.93L507.27 96.25L507.57 90.79L510.69 85.58L510.59 80.6L512.29 75.86L512.37 71.36L514.98 67.09L518.48 62.83L517.1 58.8L518.87 54.77L522.38 50.98L520.55 47.19L522.15 43.39L525.53 39.84L527.41 36.28L525.15 32.97L528.79 29.65L529.88 26.57L528.02 23.49L530.95 20.64" fill="none" stroke="#1010ff" stroke-width="1.15" stroke-linejoin="round"/>
<path d="M402.96 230.15H411.06M402.96 227.75v4.8M411.06 227.75v4.8M400.02 220.67H408.12M400.02 218.27v4.8M408.12 218.27v4.8M404.8 206.45H412.9M404.8 204.05v4.8M412.9 204.05v4.8M410.88 192.23H418.98M410.88 189.83v4.8M418.98 189.83v4.8M419.53 178.01H427.63M419.53 175.61v4.8M427.63 175.61v4.8M437.95 161.42H446.05M437.95 159.02v4.8M446.05 159.02v4.8M471.46 144.83H479.56M471.46 142.43v4.8M479.56 142.43v4.8M480.48 135.35H488.58M480.48 132.95v4.8M488.58 132.95v4.8M486.01 127.06H494.11M486.01 124.66v4.8M494.11 124.66v4.8M493.74 120.18H501.84M493.74 117.78v4.8M501.84 117.78v4.8M494.04 113.78H502.14M494.04 111.38v4.8M502.14 111.38v4.8M497.33 107.62H505.43M497.33 105.22v4.8M505.43 105.22v4.8M498.26 101.93H506.36M498.26 99.53v4.8M506.36 99.53v4.8M503.22 96.25H511.32M503.22 93.84v4.8M511.32 93.84v4.8M503.52 90.79H511.62M503.52 88.39v4.8M511.62 88.39v4.8M506.64 85.58H514.74M506.64 83.18v4.8M514.74 83.18v4.8M506.54 80.6H514.64M506.54 78.2v4.8M514.64 78.2v4.8M508.24 75.86H516.34M508.24 73.46v4.8M516.34 73.46v4.8M508.32 71.36H516.42M508.32 68.96v4.8M516.42 68.96v4.8M510.93 67.09H519.03M510.93 64.69v4.8M519.03 64.69v4.8M514.43 62.83H522.53M514.43 60.43v4.8M522.53 60.43v4.8M513.05 58.8H521.15M513.05 56.4v4.8M521.15 56.4v4.8M514.82 54.77H522.92M514.82 52.37v4.8M522.92 52.37v4.8M518.33 50.98H526.43M518.33 48.58v4.8M526.43 48.58v4.8M516.5 47.19H524.6M516.5 44.79v4.8M524.6 44.79v4.8M518.1 43.39H526.2M518.1 40.99v4.8M526.2 40.99v4.8M521.48 39.84H529.58M521.48 37.44v4.8M529.58 37.44v4.8M523.36 36.28H531.46M523.36 33.88v4.8M531.46 33.88v4.8M521.1 32.97H529.2M521.1 30.57v4.8M529.2 30.57v4.8M524.73 29.65H532.84M524.73 27.25v4.8M532.84 27.25v4.8M525.83 26.57H533.94M525.83 24.17v4.8M533.94 24.17v4.8M523.97 23.49H532.08M523.97 21.09v4.8M532.08 21.09v4.8M526.9 20.64H535M526.9 18.24v4.8M535 18.24v4.8" fill="none" stroke="#1010ff" stroke-width="1"/>
<path d="M407.01 233.95L410.41 228.2L403.61 228.2zM404.07 224.47L407.47 218.72L400.67 218.72zM408.85 210.25L412.25 204.5L405.45 204.5zM414.93 196.03L418.33 190.28L411.53 190.28zM423.58 181.81L426.98 176.06L420.18 176.06zM442 165.22L445.4 159.47L438.6 159.47zM475.51 148.63L478.91 142.88L472.11 142.88zM484.53 139.15L487.93 133.4L481.13 133.4zM490.06 130.86L493.46 125.11L486.66 125.11zM497.79 123.98L501.19 118.23L494.39 118.23zM498.09 117.58L501.49 111.83L494.69 111.83zM501.38 111.42L504.78 105.67L497.98 105.67zM502.31 105.73L505.71 99.98L498.91 99.98zM507.27 100.05L510.67 94.3L503.87 94.3zM507.57 94.59L510.97 88.84L504.17 88.84zM510.69 89.38L514.09 83.63L507.29 83.63zM510.59 84.4L513.99 78.65L507.19 78.65zM512.29 79.66L515.69 73.91L508.89 73.91zM512.37 75.16L515.77 69.41L508.97 69.41zM514.98 70.89L518.38 65.14L511.58 65.14zM518.48 66.63L521.88 60.88L515.08 60.88zM517.1 62.6L520.5 56.85L513.7 56.85zM518.87 58.57L522.27 52.82L515.47 52.82zM522.38 54.78L525.78 49.03L518.98 49.03zM520.55 50.99L523.95 45.24L517.15 45.24zM522.15 47.19L525.55 41.44L518.75 41.44zM525.53 43.64L528.93 37.89L522.13 37.89zM527.41 40.08L530.81 34.33L524.01 34.33zM525.15 36.77L528.55 31.02L521.75 31.02zM528.79 33.45L532.19 27.7L525.39 27.7zM529.88 30.37L533.28 24.62L526.48 24.62zM528.02 27.29L531.42 21.54L524.62 21.54zM530.95 24.44L534.35 18.69L527.55 18.69z" fill="#1010ff"/>
<rect x="388.6" y="5" width="294.6" height="237" fill="none" stroke="#303030" stroke-width="1.25"/>
<path d="M407.01 242v-4.6 M443.84 242v-4.6 M480.66 242v-4.6 M517.49 242v-4.6 M554.31 242v-4.6 M591.14 242v-4.6 M627.96 242v-4.6 M664.79 242v-4.6 M388.6 242v-2.4 M425.43 242v-2.4 M462.25 242v-2.4 M499.08 242v-2.4 M535.9 242v-2.4 M572.73 242v-2.4 M609.55 242v-2.4 M646.38 242v-2.4 M388.6 230.15h4.6 M388.6 182.75h4.6 M388.6 135.35h4.6 M388.6 87.95h4.6 M388.6 40.55h4.6 M388.6 206.45h2.4 M388.6 159.05h2.4 M388.6 111.65h2.4 M388.6 64.25h2.4 M388.6 16.85h2.4" stroke="#303030" stroke-width="1.1" fill="none"/>
<text x="407.01" y="257" text-anchor="middle" font-size="12.3">0</text>
<text x="443.84" y="257" text-anchor="middle" font-size="12.3">2</text>
<text x="480.66" y="257" text-anchor="middle" font-size="12.3">4</text>
<text x="517.49" y="257" text-anchor="middle" font-size="12.3">6</text>
<text x="554.31" y="257" text-anchor="middle" font-size="12.3">8</text>
<text x="591.14" y="257" text-anchor="middle" font-size="12.3">10</text>
<text x="627.96" y="257" text-anchor="middle" font-size="12.3">12</text>
<text x="664.79" y="257" text-anchor="middle" font-size="12.3">14</text>
<text x="383" y="233.95" text-anchor="end" font-size="12.3">0</text>
<text x="383" y="186.55" text-anchor="end" font-size="12.3">200</text>
<text x="383" y="139.15" text-anchor="end" font-size="12.3">400</text>
<text x="383" y="91.75" text-anchor="end" font-size="12.3">600</text>
<text x="383" y="44.35" text-anchor="end" font-size="12.3">800</text>
<rect x="594.4" y="92.5" width="81.2" height="138.3" fill="#fff" stroke="#222" stroke-width="1.1"/>
<path d="M596.3 101.3h27.5" stroke="#ff2012" stroke-width="1.2"/>
<path d="M607.3 98.7h5.2v5.2h-5.2z" fill="#ff2012"/>
<text x="627.6" y="105.6" font-size="12.2">FCC111</text>
<path d="M596.3 116.42h27.5" stroke="#1010ff" stroke-width="1.2"/>
<path d="M607.3 113.82h5.2v5.2h-5.2z" fill="#1010ff"/>
<text x="627.6" y="120.72" font-size="12.2">BCC110</text>
<path d="M596.3 131.54h27.5" stroke="#ff2012" stroke-width="1.2"/>
<path d="M607.1 131.54a2.8 2.8 0 1 0 5.6 0a2.8 2.8 0 1 0 -5.6 0z" fill="#ff2012"/>
<text x="627.6" y="135.84" font-size="12.2">FCC200</text>
<path d="M596.3 146.66h27.5" stroke="#1010ff" stroke-width="1.2"/>
<path d="M607.1 146.66a2.8 2.8 0 1 0 5.6 0a2.8 2.8 0 1 0 -5.6 0z" fill="#1010ff"/>
<text x="627.6" y="150.96" font-size="12.2">BCC200</text>
<path d="M596.3 161.78h27.5" stroke="#ff2012" stroke-width="1.2"/>
<path d="M609.9 157.98L613.3 163.73L606.5 163.73z" fill="#ff2012"/>
<text x="627.6" y="166.08" font-size="12.2">FCC220</text>
<path d="M596.3 176.9h27.5" stroke="#1010ff" stroke-width="1.2"/>
<path d="M609.9 173.1L613.3 178.85L606.5 178.85z" fill="#1010ff"/>
<text x="627.6" y="181.2" font-size="12.2">BCC211</text>
<path d="M596.3 192.02h27.5" stroke="#ff2012" stroke-width="1.2"/>
<path d="M609.9 195.82L613.3 190.07L606.5 190.07z" fill="#ff2012"/>
<text x="627.6" y="196.32" font-size="12.2">FCC311</text>
<path d="M596.3 207.14h27.5" stroke="#ff2012" stroke-width="1.2"/>
<path d="M609.9 203.54L613.1 207.14L609.9 210.74L606.7 207.14z" fill="#ff2012"/>
<text x="627.6" y="211.44" font-size="12.2">FCC222</text>
<path d="M596.3 222.26h27.5" stroke="#1010ff" stroke-width="1.2"/>
<path d="M609.9 226.06L613.3 220.31L606.5 220.31z" fill="#1010ff"/>
<text x="627.6" y="226.56" font-size="12.2">BCC220</text>
<text x="474.9" y="270" font-size="12.2">Lattice Strain (×10<tspan dy="-4.9" font-size="8.2">-3</tspan><tspan dy="4.9">)</tspan></text>
<text transform="translate(356.9,128.6) rotate(-90)" text-anchor="middle" font-size="12.3">True Stress (MPa)</text>
<text x="348.8" y="18" font-size="20">b</text>
<path d="M53.74 465.1L65.53 465.1L83.22 465.1L100.91 465.1L118.6 465.1L139.23 466.58L159.87 466.58L171.66 466.58L181.98 466.74L190.53 466.86L198.49 466.98L206.15 467.1L213.23 467.21L220.3 467.31L227.08 467.41L233.57 468.04L239.76 469.23L245.65 470.37L251.26 471.46L256.56 472.49L261.87 473.53L266.88 474.5L271.89 475.48L276.61 476.4L281.33 477.32L286.04 478.24L290.46 479.1L294.89 479.96L299.01 480.76L303.14 481.57L306.97 482.31L310.81 483.06L314.34 483.75" fill="none" stroke="#ff2012" stroke-width="1.15" stroke-linejoin="round"/>
<path d="M53.74 466.58V463.62M51.14 466.58h5.2M51.14 463.62h5.2M65.53 466.58V463.62M62.93 466.58h5.2M62.93 463.62h5.2M83.22 466.58V463.62M80.62 466.58h5.2M80.62 463.62h5.2M100.91 466.58V463.62M98.31 466.58h5.2M98.31 463.62h5.2M118.6 466.58V463.62M116 466.58h5.2M116 463.62h5.2M139.23 468.06V465.1M136.63 468.06h5.2M136.63 465.1h5.2M159.87 468.06V465.1M157.27 468.06h5.2M157.27 465.1h5.2M171.66 468.06V465.1M169.06 468.06h5.2M169.06 465.1h5.2M181.98 468.22V465.26M179.38 468.22h5.2M179.38 465.26h5.2M190.53 468.34V465.38M187.93 468.34h5.2M187.93 465.38h5.2M198.49 468.46V465.5M195.89 468.46h5.2M195.89 465.5h5.2M206.15 468.58V465.62M203.55 468.58h5.2M203.55 465.62h5.2M213.23 468.69V465.73M210.63 468.69h5.2M210.63 465.73h5.2M220.3 468.79V465.83M217.7 468.79h5.2M217.7 465.83h5.2M227.08 468.89V465.93M224.48 468.89h5.2M224.48 465.93h5.2M233.57 469.52V466.56M230.97 469.52h5.2M230.97 466.56h5.2M239.76 470.71V467.75M237.16 470.71h5.2M237.16 467.75h5.2M245.65 471.85V468.89M243.05 471.85h5.2M243.05 468.89h5.2M251.26 472.94V469.98M248.66 472.94h5.2M248.66 469.98h5.2M256.56 473.97V471.01M253.96 473.97h5.2M253.96 471.01h5.2M261.87 475.01V472.05M259.27 475.01h5.2M259.27 472.05h5.2M266.88 475.98V473.02M264.28 475.98h5.2M264.28 473.02h5.2M271.89 476.96V474M269.29 476.96h5.2M269.29 474h5.2M276.61 477.88V474.92M274.01 477.88h5.2M274.01 474.92h5.2M281.33 478.8V475.84M278.73 478.8h5.2M278.73 475.84h5.2M286.04 479.72V476.76M283.44 479.72h5.2M283.44 476.76h5.2M290.46 480.58V477.62M287.86 480.58h5.2M287.86 477.62h5.2M294.89 481.44V478.48M292.29 481.44h5.2M292.29 478.48h5.2M299.01 482.24V479.28M296.41 482.24h5.2M296.41 479.28h5.2M303.14 483.05V480.09M300.54 483.05h5.2M300.54 480.09h5.2M306.97 483.79V480.83M304.37 483.79h5.2M304.37 480.83h5.2M310.81 484.54V481.58M308.21 484.54h5.2M308.21 481.58h5.2M314.34 485.23V482.27M311.74 485.23h5.2M311.74 482.27h5.2" fill="none" stroke="#ff2012" stroke-width="1"/>
<path d="M51.14 462.5h5.2v5.2h-5.2zM62.93 462.5h5.2v5.2h-5.2zM80.62 462.5h5.2v5.2h-5.2zM98.31 462.5h5.2v5.2h-5.2zM116 462.5h5.2v5.2h-5.2zM136.63 463.98h5.2v5.2h-5.2zM157.27 463.98h5.2v5.2h-5.2zM169.06 463.98h5.2v5.2h-5.2zM179.38 464.14h5.2v5.2h-5.2zM187.93 464.26h5.2v5.2h-5.2zM195.89 464.38h5.2v5.2h-5.2zM203.55 464.5h5.2v5.2h-5.2zM210.63 464.61h5.2v5.2h-5.2zM217.7 464.71h5.2v5.2h-5.2zM224.48 464.81h5.2v5.2h-5.2zM230.97 465.44h5.2v5.2h-5.2zM237.16 466.63h5.2v5.2h-5.2zM243.05 467.77h5.2v5.2h-5.2zM248.66 468.86h5.2v5.2h-5.2zM253.96 469.89h5.2v5.2h-5.2zM259.27 470.93h5.2v5.2h-5.2zM264.28 471.9h5.2v5.2h-5.2zM269.29 472.88h5.2v5.2h-5.2zM274.01 473.8h5.2v5.2h-5.2zM278.73 474.72h5.2v5.2h-5.2zM283.44 475.64h5.2v5.2h-5.2zM287.86 476.5h5.2v5.2h-5.2zM292.29 477.36h5.2v5.2h-5.2zM296.41 478.16h5.2v5.2h-5.2zM300.54 478.97h5.2v5.2h-5.2zM304.37 479.71h5.2v5.2h-5.2zM308.21 480.46h5.2v5.2h-5.2zM311.74 481.15h5.2v5.2h-5.2z" fill="#ff2012"/>
<path d="M53.74 463.62L65.53 473.98L83.22 468.06L100.91 471.02L118.6 466.58L139.23 442.9L159.87 395.84L171.66 383.4L181.98 382.42L190.53 377.73L198.49 379.58L206.15 376.01L213.23 378.8L220.3 378.48L227.08 377.1L233.57 375.52L239.76 375.9L245.65 374.97L251.26 375.79L256.56 377.3L261.87 377.15L266.88 375.84L271.89 377.63L276.61 375.17L281.33 374.89L286.04 375.47L290.46 376.45L294.89 377.85L299.01 377.27L303.14 377.3L306.97 377.08L310.81 376.5L314.34 376.12" fill="none" stroke="#1010ff" stroke-width="1.15" stroke-linejoin="round"/>
<path d="M53.74 471.02V456.22M51.14 471.02h5.2M51.14 456.22h5.2M65.53 481.38V466.58M62.93 481.38h5.2M62.93 466.58h5.2M83.22 475.46V460.66M80.62 475.46h5.2M80.62 460.66h5.2M100.91 478.42V463.62M98.31 478.42h5.2M98.31 463.62h5.2M118.6 473.98V459.18M116 473.98h5.2M116 459.18h5.2M139.23 450.3V435.5M136.63 450.3h5.2M136.63 435.5h5.2M159.87 403.24V388.44M157.27 403.24h5.2M157.27 388.44h5.2M171.66 390.8V376M169.06 390.8h5.2M169.06 376h5.2M181.98 389.82V375.02M179.38 389.82h5.2M179.38 375.02h5.2M190.53 385.13V370.33M187.93 385.13h5.2M187.93 370.33h5.2M198.49 386.98V372.18M195.89 386.98h5.2M195.89 372.18h5.2M206.15 383.41V368.61M203.55 383.41h5.2M203.55 368.61h5.2M213.23 386.2V371.4M210.63 386.2h5.2M210.63 371.4h5.2M220.3 385.88V371.08M217.7 385.88h5.2M217.7 371.08h5.2M227.08 384.5V369.7M224.48 384.5h5.2M224.48 369.7h5.2M233.57 382.92V368.12M230.97 382.92h5.2M230.97 368.12h5.2M239.76 383.3V368.5M237.16 383.3h5.2M237.16 368.5h5.2M245.65 382.37V367.57M243.05 382.37h5.2M243.05 367.57h5.2M251.26 383.19V368.39M248.66 383.19h5.2M248.66 368.39h5.2M256.56 384.7V369.9M253.96 384.7h5.2M253.96 369.9h5.2M261.87 384.55V369.75M259.27 384.55h5.2M259.27 369.75h5.2M266.88 383.24V368.44M264.28 383.24h5.2M264.28 368.44h5.2M271.89 385.03V370.23M269.29 385.03h5.2M269.29 370.23h5.2M276.61 382.57V367.77M274.01 382.57h5.2M274.01 367.77h5.2M281.33 382.29V367.49M278.73 382.29h5.2M278.73 367.49h5.2M286.04 382.87V368.07M283.44 382.87h5.2M283.44 368.07h5.2M290.46 383.85V369.05M287.86 383.85h5.2M287.86 369.05h5.2M294.89 385.25V370.45M292.29 385.25h5.2M292.29 370.45h5.2M299.01 384.67V369.87M296.41 384.67h5.2M296.41 369.87h5.2M303.14 384.7V369.9M300.54 384.7h5.2M300.54 369.9h5.2M306.97 384.48V369.68M304.37 384.48h5.2M304.37 369.68h5.2M310.81 383.9V369.1M308.21 383.9h5.2M308.21 369.1h5.2M314.34 383.52V368.72M311.74 383.52h5.2M311.74 368.72h5.2" fill="none" stroke="#1010ff" stroke-width="1"/>
<path d="M51.14 461.02h5.2v5.2h-5.2zM62.93 471.38h5.2v5.2h-5.2zM80.62 465.46h5.2v5.2h-5.2zM98.31 468.42h5.2v5.2h-5.2zM116 463.98h5.2v5.2h-5.2zM136.63 440.3h5.2v5.2h-5.2zM157.27 393.24h5.2v5.2h-5.2zM169.06 380.8h5.2v5.2h-5.2zM179.38 379.82h5.2v5.2h-5.2zM187.93 375.13h5.2v5.2h-5.2zM195.89 376.98h5.2v5.2h-5.2zM203.55 373.41h5.2v5.2h-5.2zM210.63 376.2h5.2v5.2h-5.2zM217.7 375.88h5.2v5.2h-5.2zM224.48 374.5h5.2v5.2h-5.2zM230.97 372.92h5.2v5.2h-5.2zM237.16 373.3h5.2v5.2h-5.2zM243.05 372.37h5.2v5.2h-5.2zM248.66 373.19h5.2v5.2h-5.2zM253.96 374.7h5.2v5.2h-5.2zM259.27 374.55h5.2v5.2h-5.2zM264.28 373.24h5.2v5.2h-5.2zM269.29 375.03h5.2v5.2h-5.2zM274.01 372.57h5.2v5.2h-5.2zM278.73 372.29h5.2v5.2h-5.2zM283.44 372.87h5.2v5.2h-5.2zM287.86 373.85h5.2v5.2h-5.2zM292.29 375.25h5.2v5.2h-5.2zM296.41 374.67h5.2v5.2h-5.2zM300.54 374.7h5.2v5.2h-5.2zM304.37 374.48h5.2v5.2h-5.2zM308.21 373.9h5.2v5.2h-5.2zM311.74 373.52h5.2v5.2h-5.2z" fill="#1010ff"/>
<path d="M53.74 465.1L65.53 465.1L83.22 465.1L100.91 465.1L118.6 460.66L139.23 449.12L159.87 439.94L171.66 434.02L181.98 428.4L190.53 424.55L198.49 418.55L206.15 414.35L213.23 410.65L220.3 407.36L227.08 403.41L233.57 400.13L239.76 395.72L245.65 393.47L251.26 389.92L256.56 387.55L261.87 386.07L266.88 384.29L271.89 383.2L276.61 382.17L281.33 381.14L286.04 380.11L290.46 379.14L294.89 378.18L299.01 377.28L303.14 376.38L306.97 375.54L310.81 374.7L314.34 373.93" fill="none" stroke="#ff2012" stroke-width="1.15" stroke-linejoin="round"/>
<path d="M53.74 466.58V463.62M51.14 466.58h5.2M51.14 463.62h5.2M65.53 466.58V463.62M62.93 466.58h5.2M62.93 463.62h5.2M83.22 466.58V463.62M80.62 466.58h5.2M80.62 463.62h5.2M100.91 466.58V463.62M98.31 466.58h5.2M98.31 463.62h5.2M118.6 462.14V459.18M116 462.14h5.2M116 459.18h5.2M139.23 450.6V447.64M136.63 450.6h5.2M136.63 447.64h5.2M159.87 441.42V438.46M157.27 441.42h5.2M157.27 438.46h5.2M171.66 435.5V432.54M169.06 435.5h5.2M169.06 432.54h5.2M181.98 429.88V426.92M179.38 429.88h5.2M179.38 426.92h5.2M190.53 426.03V423.07M187.93 426.03h5.2M187.93 423.07h5.2M198.49 420.03V417.07M195.89 420.03h5.2M195.89 417.07h5.2M206.15 415.83V412.87M203.55 415.83h5.2M203.55 412.87h5.2M213.23 412.13V409.17M210.63 412.13h5.2M210.63 409.17h5.2M220.3 408.84V405.88M217.7 408.84h5.2M217.7 405.88h5.2M227.08 404.89V401.93M224.48 404.89h5.2M224.48 401.93h5.2M233.57 401.61V398.65M230.97 401.61h5.2M230.97 398.65h5.2M239.76 397.2V394.24M237.16 397.2h5.2M237.16 394.24h5.2M245.65 394.95V391.99M243.05 394.95h5.2M243.05 391.99h5.2M251.26 391.4V388.44M248.66 391.4h5.2M248.66 388.44h5.2M256.56 389.03V386.07M253.96 389.03h5.2M253.96 386.07h5.2M261.87 387.55V384.59M259.27 387.55h5.2M259.27 384.59h5.2M266.88 385.77V382.81M264.28 385.77h5.2M264.28 382.81h5.2M271.89 384.68V381.72M269.29 384.68h5.2M269.29 381.72h5.2M276.61 383.65V380.69M274.01 383.65h5.2M274.01 380.69h5.2M281.33 382.62V379.66M278.73 382.62h5.2M278.73 379.66h5.2M286.04 381.59V378.63M283.44 381.59h5.2M283.44 378.63h5.2M290.46 380.62V377.66M287.86 380.62h5.2M287.86 377.66h5.2M294.89 379.66V376.7M292.29 379.66h5.2M292.29 376.7h5.2M299.01 378.76V375.8M296.41 378.76h5.2M296.41 375.8h5.2M303.14 377.86V374.9M300.54 377.86h5.2M300.54 374.9h5.2M306.97 377.02V374.06M304.37 377.02h5.2M304.37 374.06h5.2M310.81 376.18V373.22M308.21 376.18h5.2M308.21 373.22h5.2M314.34 375.41V372.45M311.74 375.41h5.2M311.74 372.45h5.2" fill="none" stroke="#ff2012" stroke-width="1"/>
<path d="M50.94 465.1a2.8 2.8 0 1 0 5.6 0a2.8 2.8 0 1 0 -5.6 0zM62.73 465.1a2.8 2.8 0 1 0 5.6 0a2.8 2.8 0 1 0 -5.6 0zM80.42 465.1a2.8 2.8 0 1 0 5.6 0a2.8 2.8 0 1 0 -5.6 0zM98.11 465.1a2.8 2.8 0 1 0 5.6 0a2.8 2.8 0 1 0 -5.6 0zM115.8 460.66a2.8 2.8 0 1 0 5.6 0a2.8 2.8 0 1 0 -5.6 0zM136.43 449.12a2.8 2.8 0 1 0 5.6 0a2.8 2.8 0 1 0 -5.6 0zM157.07 439.94a2.8 2.8 0 1 0 5.6 0a2.8 2.8 0 1 0 -5.6 0zM168.86 434.02a2.8 2.8 0 1 0 5.6 0a2.8 2.8 0 1 0 -5.6 0zM179.18 428.4a2.8 2.8 0 1 0 5.6 0a2.8 2.8 0 1 0 -5.6 0zM187.73 424.55a2.8 2.8 0 1 0 5.6 0a2.8 2.8 0 1 0 -5.6 0zM195.69 418.55a2.8 2.8 0 1 0 5.6 0a2.8 2.8 0 1 0 -5.6 0zM203.35 414.35a2.8 2.8 0 1 0 5.6 0a2.8 2.8 0 1 0 -5.6 0zM210.43 410.65a2.8 2.8 0 1 0 5.6 0a2.8 2.8 0 1 0 -5.6 0zM217.5 407.36a2.8 2.8 0 1 0 5.6 0a2.8 2.8 0 1 0 -5.6 0zM224.28 403.41a2.8 2.8 0 1 0 5.6 0a2.8 2.8 0 1 0 -5.6 0zM230.77 400.13a2.8 2.8 0 1 0 5.6 0a2.8 2.8 0 1 0 -5.6 0zM236.96 395.72a2.8 2.8 0 1 0 5.6 0a2.8 2.8 0 1 0 -5.6 0zM242.85 393.47a2.8 2.8 0 1 0 5.6 0a2.8 2.8 0 1 0 -5.6 0zM248.46 389.92a2.8 2.8 0 1 0 5.6 0a2.8 2.8 0 1 0 -5.6 0zM253.76 387.55a2.8 2.8 0 1 0 5.6 0a2.8 2.8 0 1 0 -5.6 0zM259.07 386.07a2.8 2.8 0 1 0 5.6 0a2.8 2.8 0 1 0 -5.6 0zM264.08 384.29a2.8 2.8 0 1 0 5.6 0a2.8 2.8 0 1 0 -5.6 0zM269.09 383.2a2.8 2.8 0 1 0 5.6 0a2.8 2.8 0 1 0 -5.6 0zM273.81 382.17a2.8 2.8 0 1 0 5.6 0a2.8 2.8 0 1 0 -5.6 0zM278.53 381.14a2.8 2.8 0 1 0 5.6 0a2.8 2.8 0 1 0 -5.6 0zM283.24 380.11a2.8 2.8 0 1 0 5.6 0a2.8 2.8 0 1 0 -5.6 0zM287.66 379.14a2.8 2.8 0 1 0 5.6 0a2.8 2.8 0 1 0 -5.6 0zM292.09 378.18a2.8 2.8 0 1 0 5.6 0a2.8 2.8 0 1 0 -5.6 0zM296.21 377.28a2.8 2.8 0 1 0 5.6 0a2.8 2.8 0 1 0 -5.6 0zM300.34 376.38a2.8 2.8 0 1 0 5.6 0a2.8 2.8 0 1 0 -5.6 0zM304.17 375.54a2.8 2.8 0 1 0 5.6 0a2.8 2.8 0 1 0 -5.6 0zM308.01 374.7a2.8 2.8 0 1 0 5.6 0a2.8 2.8 0 1 0 -5.6 0zM311.54 373.93a2.8 2.8 0 1 0 5.6 0a2.8 2.8 0 1 0 -5.6 0z" fill="#ff2012"/>
<path d="M53.74 463.62L65.53 473.98L83.22 458L100.91 471.02L118.6 468.06L139.23 430.76L159.57 351.44L172.25 326.28L182.27 340.19L190.82 350.84L198.78 344.33L206.74 335.75L213.82 344.63L221.19 323.91L227.38 334.27L234.16 341.08L240.05 343.15L245.65 343.15L251.26 338.12L256.56 343.15L261.57 342.56L265.7 359.72L270.71 339L274.84 361.5L279.26 347L283.09 333.08L286.93 330.42L291.05 329.24L311.69 359.13L314.64 350.55" fill="none" stroke="#1010ff" stroke-width="1.15" stroke-linejoin="round"/>
<path d="M53.74 471.02V456.22M51.14 471.02h5.2M51.14 456.22h5.2M65.53 482.86V465.1M62.93 482.86h5.2M62.93 465.1h5.2M83.22 466.88V449.12M80.62 466.88h5.2M80.62 449.12h5.2M100.91 479.9V462.14M98.31 479.9h5.2M98.31 462.14h5.2M118.6 476.94V459.18M116 476.94h5.2M116 459.18h5.2M139.23 441.12V420.4M136.63 441.12h5.2M136.63 420.4h5.2M159.57 360.32V342.56M156.97 360.32h5.2M156.97 342.56h5.2M172.25 335.16V317.4M169.65 335.16h5.2M169.65 317.4h5.2M182.27 349.07V331.31M179.67 349.07h5.2M179.67 331.31h5.2M190.82 359.72V341.96M188.22 359.72h5.2M188.22 341.96h5.2M198.78 353.21V335.45M196.18 353.21h5.2M196.18 335.45h5.2M206.74 346.11V325.39M204.14 346.11h5.2M204.14 325.39h5.2M213.82 356.47V332.79M211.22 356.47h5.2M211.22 332.79h5.2M221.19 335.75V312.07M218.59 335.75h5.2M218.59 312.07h5.2M227.38 344.63V323.91M224.78 344.63h5.2M224.78 323.91h5.2M234.16 352.92V329.24M231.56 352.92h5.2M231.56 329.24h5.2M240.05 354.99V331.31M237.45 354.99h5.2M237.45 331.31h5.2M245.65 354.99V331.31M243.05 354.99h5.2M243.05 331.31h5.2M251.26 351.44V324.8M248.66 351.44h5.2M248.66 324.8h5.2M256.56 356.47V329.83M253.96 356.47h5.2M253.96 329.83h5.2M261.57 357.36V327.76M258.97 357.36h5.2M258.97 327.76h5.2M265.7 374.52V344.92M263.1 374.52h5.2M263.1 344.92h5.2M270.71 353.8V324.2M268.11 353.8h5.2M268.11 324.2h5.2M274.84 376.3V346.7M272.24 376.3h5.2M272.24 346.7h5.2M279.26 363.28V330.72M276.66 363.28h5.2M276.66 330.72h5.2M283.09 353.8V312.36M280.49 353.8h5.2M280.49 312.36h5.2M286.93 355.88V304.96M284.33 355.88h5.2M284.33 304.96h5.2M291.05 341.67V316.8M288.45 341.67h5.2M288.45 316.8h5.2M311.69 373.93V344.33M309.09 373.93h5.2M309.09 344.33h5.2M314.64 375.71V325.39M312.04 375.71h5.2M312.04 325.39h5.2" fill="none" stroke="#1010ff" stroke-width="1"/>
<path d="M50.94 463.62a2.8 2.8 0 1 0 5.6 0a2.8 2.8 0 1 0 -5.6 0zM62.73 473.98a2.8 2.8 0 1 0 5.6 0a2.8 2.8 0 1 0 -5.6 0zM80.42 458a2.8 2.8 0 1 0 5.6 0a2.8 2.8 0 1 0 -5.6 0zM98.11 471.02a2.8 2.8 0 1 0 5.6 0a2.8 2.8 0 1 0 -5.6 0zM115.8 468.06a2.8 2.8 0 1 0 5.6 0a2.8 2.8 0 1 0 -5.6 0zM136.43 430.76a2.8 2.8 0 1 0 5.6 0a2.8 2.8 0 1 0 -5.6 0zM156.77 351.44a2.8 2.8 0 1 0 5.6 0a2.8 2.8 0 1 0 -5.6 0zM169.45 326.28a2.8 2.8 0 1 0 5.6 0a2.8 2.8 0 1 0 -5.6 0zM179.47 340.19a2.8 2.8 0 1 0 5.6 0a2.8 2.8 0 1 0 -5.6 0zM188.02 350.84a2.8 2.8 0 1 0 5.6 0a2.8 2.8 0 1 0 -5.6 0zM195.98 344.33a2.8 2.8 0 1 0 5.6 0a2.8 2.8 0 1 0 -5.6 0zM203.94 335.75a2.8 2.8 0 1 0 5.6 0a2.8 2.8 0 1 0 -5.6 0zM211.02 344.63a2.8 2.8 0 1 0 5.6 0a2.8 2.8 0 1 0 -5.6 0zM218.39 323.91a2.8 2.8 0 1 0 5.6 0a2.8 2.8 0 1 0 -5.6 0zM224.58 334.27a2.8 2.8 0 1 0 5.6 0a2.8 2.8 0 1 0 -5.6 0zM231.36 341.08a2.8 2.8 0 1 0 5.6 0a2.8 2.8 0 1 0 -5.6 0zM237.25 343.15a2.8 2.8 0 1 0 5.6 0a2.8 2.8 0 1 0 -5.6 0zM242.85 343.15a2.8 2.8 0 1 0 5.6 0a2.8 2.8 0 1 0 -5.6 0zM248.46 338.12a2.8 2.8 0 1 0 5.6 0a2.8 2.8 0 1 0 -5.6 0zM253.76 343.15a2.8 2.8 0 1 0 5.6 0a2.8 2.8 0 1 0 -5.6 0zM258.77 342.56a2.8 2.8 0 1 0 5.6 0a2.8 2.8 0 1 0 -5.6 0zM262.9 359.72a2.8 2.8 0 1 0 5.6 0a2.8 2.8 0 1 0 -5.6 0zM267.91 339a2.8 2.8 0 1 0 5.6 0a2.8 2.8 0 1 0 -5.6 0zM272.04 361.5a2.8 2.8 0 1 0 5.6 0a2.8 2.8 0 1 0 -5.6 0zM276.46 347a2.8 2.8 0 1 0 5.6 0a2.8 2.8 0 1 0 -5.6 0zM280.29 333.08a2.8 2.8 0 1 0 5.6 0a2.8 2.8 0 1 0 -5.6 0zM284.13 330.42a2.8 2.8 0 1 0 5.6 0a2.8 2.8 0 1 0 -5.6 0zM288.25 329.24a2.8 2.8 0 1 0 5.6 0a2.8 2.8 0 1 0 -5.6 0zM308.89 359.13a2.8 2.8 0 1 0 5.6 0a2.8 2.8 0 1 0 -5.6 0zM311.84 350.55a2.8 2.8 0 1 0 5.6 0a2.8 2.8 0 1 0 -5.6 0z" fill="#1010ff"/>
<path d="M53.74 465.1L65.53 465.1L83.22 465.1L100.91 465.1L118.6 465.1L139.23 468.06L159.87 470.89L171.66 472.51L181.98 473.87L190.53 474.75L198.49 475.58L206.15 476.37L213.23 477.1L220.3 477.84L227.08 478.54L233.57 479.21L239.76 479.85L245.65 480.46L251.26 481.34L256.56 482.19L261.87 483.04L266.88 483.84L271.89 484.65L276.61 485.4L281.33 486.16L286.04 486.91L290.46 487.62L294.89 488.33L299.01 488.99L303.14 489.65L306.97 490.26L310.81 490.88L314.34 491.44" fill="none" stroke="#ff2012" stroke-width="1.15" stroke-linejoin="round"/>
<path d="M53.74 466.58V463.62M51.14 466.58h5.2M51.14 463.62h5.2M65.53 466.58V463.62M62.93 466.58h5.2M62.93 463.62h5.2M83.22 466.58V463.62M80.62 466.58h5.2M80.62 463.62h5.2M100.91 466.58V463.62M98.31 466.58h5.2M98.31 463.62h5.2M118.6 466.58V463.62M116 466.58h5.2M116 463.62h5.2M139.23 469.54V466.58M136.63 469.54h5.2M136.63 466.58h5.2M159.87 472.37V469.41M157.27 472.37h5.2M157.27 469.41h5.2M171.66 473.99V471.03M169.06 473.99h5.2M169.06 471.03h5.2M181.98 475.35V472.39M179.38 475.35h5.2M179.38 472.39h5.2M190.53 476.23V473.27M187.93 476.23h5.2M187.93 473.27h5.2M198.49 477.06V474.1M195.89 477.06h5.2M195.89 474.1h5.2M206.15 477.85V474.89M203.55 477.85h5.2M203.55 474.89h5.2M213.23 478.58V475.62M210.63 478.58h5.2M210.63 475.62h5.2M220.3 479.32V476.36M217.7 479.32h5.2M217.7 476.36h5.2M227.08 480.02V477.06M224.48 480.02h5.2M224.48 477.06h5.2M233.57 480.69V477.73M230.97 480.69h5.2M230.97 477.73h5.2M239.76 481.33V478.37M237.16 481.33h5.2M237.16 478.37h5.2M245.65 481.94V478.98M243.05 481.94h5.2M243.05 478.98h5.2M251.26 482.82V479.86M248.66 482.82h5.2M248.66 479.86h5.2M256.56 483.67V480.71M253.96 483.67h5.2M253.96 480.71h5.2M261.87 484.52V481.56M259.27 484.52h5.2M259.27 481.56h5.2M266.88 485.32V482.36M264.28 485.32h5.2M264.28 482.36h5.2M271.89 486.13V483.17M269.29 486.13h5.2M269.29 483.17h5.2M276.61 486.88V483.92M274.01 486.88h5.2M274.01 483.92h5.2M281.33 487.64V484.68M278.73 487.64h5.2M278.73 484.68h5.2M286.04 488.39V485.43M283.44 488.39h5.2M283.44 485.43h5.2M290.46 489.1V486.14M287.86 489.1h5.2M287.86 486.14h5.2M294.89 489.81V486.85M292.29 489.81h5.2M292.29 486.85h5.2M299.01 490.47V487.51M296.41 490.47h5.2M296.41 487.51h5.2M303.14 491.13V488.17M300.54 491.13h5.2M300.54 488.17h5.2M306.97 491.74V488.78M304.37 491.74h5.2M304.37 488.78h5.2M310.81 492.36V489.4M308.21 492.36h5.2M308.21 489.4h5.2M314.34 492.92V489.96M311.74 492.92h5.2M311.74 489.96h5.2" fill="none" stroke="#ff2012" stroke-width="1"/>
<path d="M53.74 461.3L57.14 467.05L50.34 467.05zM65.53 461.3L68.93 467.05L62.13 467.05zM83.22 461.3L86.62 467.05L79.82 467.05zM100.91 461.3L104.31 467.05L97.51 467.05zM118.6 461.3L122 467.05L115.2 467.05zM139.23 464.26L142.63 470.01L135.83 470.01zM159.87 467.09L163.27 472.84L156.47 472.84zM171.66 468.71L175.06 474.46L168.26 474.46zM181.98 470.07L185.38 475.82L178.58 475.82zM190.53 470.95L193.93 476.7L187.13 476.7zM198.49 471.78L201.89 477.53L195.09 477.53zM206.15 472.57L209.55 478.32L202.75 478.32zM213.23 473.3L216.63 479.05L209.83 479.05zM220.3 474.04L223.7 479.79L216.9 479.79zM227.08 474.74L230.48 480.49L223.68 480.49zM233.57 475.41L236.97 481.16L230.17 481.16zM239.76 476.05L243.16 481.8L236.36 481.8zM245.65 476.66L249.05 482.41L242.25 482.41zM251.26 477.54L254.66 483.29L247.86 483.29zM256.56 478.39L259.96 484.14L253.16 484.14zM261.87 479.24L265.27 484.99L258.47 484.99zM266.88 480.04L270.28 485.79L263.48 485.79zM271.89 480.85L275.29 486.6L268.49 486.6zM276.61 481.6L280.01 487.35L273.21 487.35zM281.33 482.36L284.73 488.11L277.93 488.11zM286.04 483.11L289.44 488.86L282.64 488.86zM290.46 483.82L293.86 489.57L287.06 489.57zM294.89 484.53L298.29 490.28L291.49 490.28zM299.01 485.19L302.41 490.94L295.61 490.94zM303.14 485.85L306.54 491.6L299.74 491.6zM306.97 486.46L310.37 492.21L303.57 492.21zM310.81 487.08L314.21 492.83L307.41 492.83zM314.34 487.64L317.74 493.39L310.94 493.39z" fill="#ff2012"/>
<path d="M53.74 465.1L65.53 471.02L83.22 469.54L100.91 471.02L118.6 465.1L139.23 435.5L159.87 387.55L171.66 376.3L181.98 376.74L190.53 371.27L198.49 375.25L206.15 372.82L213.23 371.79L220.3 372.15L227.08 374.75L233.57 375.57L239.76 371.91L245.65 370.99L251.26 363.87L256.56 374.05L261.87 371.79L266.88 372.14L271.89 373.54L276.61 372.43L281.33 373.29L286.04 372.52L290.46 371.93L294.89 374.7L299.01 362.09L303.14 370.5L306.97 371.95L310.81 371.37L314.34 374.98" fill="none" stroke="#1010ff" stroke-width="1.15" stroke-linejoin="round"/>
<path d="M53.74 472.5V457.7M51.14 472.5h5.2M51.14 457.7h5.2M65.53 478.42V463.62M62.93 478.42h5.2M62.93 463.62h5.2M83.22 476.94V462.14M80.62 476.94h5.2M80.62 462.14h5.2M100.91 478.42V463.62M98.31 478.42h5.2M98.31 463.62h5.2M118.6 472.5V457.7M116 472.5h5.2M116 457.7h5.2M139.23 442.9V428.1M136.63 442.9h5.2M136.63 428.1h5.2M159.87 394.95V380.15M157.27 394.95h5.2M157.27 380.15h5.2M171.66 383.7V368.9M169.06 383.7h5.2M169.06 368.9h5.2M181.98 384.14V369.34M179.38 384.14h5.2M179.38 369.34h5.2M190.53 378.67V363.87M187.93 378.67h5.2M187.93 363.87h5.2M198.49 382.65V367.85M195.89 382.65h5.2M195.89 367.85h5.2M206.15 380.22V365.42M203.55 380.22h5.2M203.55 365.42h5.2M213.23 379.19V364.39M210.63 379.19h5.2M210.63 364.39h5.2M220.3 379.55V364.75M217.7 379.55h5.2M217.7 364.75h5.2M227.08 382.15V367.35M224.48 382.15h5.2M224.48 367.35h5.2M233.57 382.97V368.17M230.97 382.97h5.2M230.97 368.17h5.2M239.76 379.31V364.51M237.16 379.31h5.2M237.16 364.51h5.2M245.65 378.39V363.59M243.05 378.39h5.2M243.05 363.59h5.2M251.26 371.27V356.47M248.66 371.27h5.2M248.66 356.47h5.2M256.56 381.45V366.65M253.96 381.45h5.2M253.96 366.65h5.2M261.87 379.19V364.39M259.27 379.19h5.2M259.27 364.39h5.2M266.88 379.54V364.74M264.28 379.54h5.2M264.28 364.74h5.2M271.89 380.94V366.14M269.29 380.94h5.2M269.29 366.14h5.2M276.61 379.83V365.03M274.01 379.83h5.2M274.01 365.03h5.2M281.33 380.69V365.89M278.73 380.69h5.2M278.73 365.89h5.2M286.04 379.92V365.12M283.44 379.92h5.2M283.44 365.12h5.2M290.46 379.33V364.53M287.86 379.33h5.2M287.86 364.53h5.2M294.89 382.1V367.3M292.29 382.1h5.2M292.29 367.3h5.2M299.01 369.49V354.69M296.41 369.49h5.2M296.41 354.69h5.2M303.14 377.9V363.1M300.54 377.9h5.2M300.54 363.1h5.2M306.97 379.35V364.55M304.37 379.35h5.2M304.37 364.55h5.2M310.81 378.77V363.97M308.21 378.77h5.2M308.21 363.97h5.2M314.34 382.38V367.58M311.74 382.38h5.2M311.74 367.58h5.2" fill="none" stroke="#1010ff" stroke-width="1"/>
<path d="M53.74 461.3L57.14 467.05L50.34 467.05zM65.53 467.22L68.93 472.97L62.13 472.97zM83.22 465.74L86.62 471.49L79.82 471.49zM100.91 467.22L104.31 472.97L97.51 472.97zM118.6 461.3L122 467.05L115.2 467.05zM139.23 431.7L142.63 437.45L135.83 437.45zM159.87 383.75L163.27 389.5L156.47 389.5zM171.66 372.5L175.06 378.25L168.26 378.25zM181.98 372.94L185.38 378.69L178.58 378.69zM190.53 367.47L193.93 373.22L187.13 373.22zM198.49 371.45L201.89 377.2L195.09 377.2zM206.15 369.02L209.55 374.77L202.75 374.77zM213.23 367.99L216.63 373.74L209.83 373.74zM220.3 368.35L223.7 374.1L216.9 374.1zM227.08 370.95L230.48 376.7L223.68 376.7zM233.57 371.77L236.97 377.52L230.17 377.52zM239.76 368.11L243.16 373.86L236.36 373.86zM245.65 367.19L249.05 372.94L242.25 372.94zM251.26 360.07L254.66 365.82L247.86 365.82zM256.56 370.25L259.96 376L253.16 376zM261.87 367.99L265.27 373.74L258.47 373.74zM266.88 368.34L270.28 374.09L263.48 374.09zM271.89 369.74L275.29 375.49L268.49 375.49zM276.61 368.63L280.01 374.38L273.21 374.38zM281.33 369.49L284.73 375.24L277.93 375.24zM286.04 368.72L289.44 374.47L282.64 374.47zM290.46 368.13L293.86 373.88L287.06 373.88zM294.89 370.9L298.29 376.65L291.49 376.65zM299.01 358.29L302.41 364.04L295.61 364.04zM303.14 366.7L306.54 372.45L299.74 372.45zM306.97 368.15L310.37 373.9L303.57 373.9zM310.81 367.57L314.21 373.32L307.41 373.32zM314.34 371.18L317.74 376.93L310.94 376.93z" fill="#1010ff"/>
<path d="M53.74 465.1L65.53 465.1L83.22 465.1L100.91 465.1L118.6 465.1L139.23 465.1L159.87 464.97L171.66 464.89L181.98 464.82L190.53 464.77L198.49 464.72L206.15 464.67L213.23 464.62L220.3 464.57L227.08 464.53L233.57 463.77L239.76 462.21L245.65 460.73L251.26 459.86L256.56 459.05L261.87 458.25L266.88 457.49L271.89 456.73L276.61 456.02L281.33 455.3L286.04 454.59L290.46 453.92L294.89 453.25L299.01 452.62L303.14 452L306.97 451.42L310.81 450.84L314.34 450.3" fill="none" stroke="#ff2012" stroke-width="1.15" stroke-linejoin="round"/>
<path d="M53.74 466.58V463.62M51.14 466.58h5.2M51.14 463.62h5.2M65.53 466.58V463.62M62.93 466.58h5.2M62.93 463.62h5.2M83.22 466.58V463.62M80.62 466.58h5.2M80.62 463.62h5.2M100.91 466.58V463.62M98.31 466.58h5.2M98.31 463.62h5.2M118.6 466.58V463.62M116 466.58h5.2M116 463.62h5.2M139.23 466.58V463.62M136.63 466.58h5.2M136.63 463.62h5.2M159.87 466.45V463.49M157.27 466.45h5.2M157.27 463.49h5.2M171.66 466.37V463.41M169.06 466.37h5.2M169.06 463.41h5.2M181.98 466.3V463.34M179.38 466.3h5.2M179.38 463.34h5.2M190.53 466.25V463.29M187.93 466.25h5.2M187.93 463.29h5.2M198.49 466.2V463.24M195.89 466.2h5.2M195.89 463.24h5.2M206.15 466.15V463.19M203.55 466.15h5.2M203.55 463.19h5.2M213.23 466.1V463.14M210.63 466.1h5.2M210.63 463.14h5.2M220.3 466.05V463.09M217.7 466.05h5.2M217.7 463.09h5.2M227.08 466.01V463.05M224.48 466.01h5.2M224.48 463.05h5.2M233.57 465.25V462.29M230.97 465.25h5.2M230.97 462.29h5.2M239.76 463.69V460.73M237.16 463.69h5.2M237.16 460.73h5.2M245.65 462.21V459.25M243.05 462.21h5.2M243.05 459.25h5.2M251.26 461.34V458.38M248.66 461.34h5.2M248.66 458.38h5.2M256.56 460.53V457.57M253.96 460.53h5.2M253.96 457.57h5.2M261.87 459.73V456.77M259.27 459.73h5.2M259.27 456.77h5.2M266.88 458.97V456.01M264.28 458.97h5.2M264.28 456.01h5.2M271.89 458.21V455.25M269.29 458.21h5.2M269.29 455.25h5.2M276.61 457.5V454.54M274.01 457.5h5.2M274.01 454.54h5.2M281.33 456.78V453.82M278.73 456.78h5.2M278.73 453.82h5.2M286.04 456.07V453.11M283.44 456.07h5.2M283.44 453.11h5.2M290.46 455.4V452.44M287.86 455.4h5.2M287.86 452.44h5.2M294.89 454.73V451.77M292.29 454.73h5.2M292.29 451.77h5.2M299.01 454.1V451.14M296.41 454.1h5.2M296.41 451.14h5.2M303.14 453.48V450.52M300.54 453.48h5.2M300.54 450.52h5.2M306.97 452.9V449.94M304.37 452.9h5.2M304.37 449.94h5.2M310.81 452.32V449.36M308.21 452.32h5.2M308.21 449.36h5.2M314.34 451.78V448.82M311.74 451.78h5.2M311.74 448.82h5.2" fill="none" stroke="#ff2012" stroke-width="1"/>
<path d="M53.74 468.9L57.14 463.15L50.34 463.15zM65.53 468.9L68.93 463.15L62.13 463.15zM83.22 468.9L86.62 463.15L79.82 463.15zM100.91 468.9L104.31 463.15L97.51 463.15zM118.6 468.9L122 463.15L115.2 463.15zM139.23 468.9L142.63 463.15L135.83 463.15zM159.87 468.77L163.27 463.02L156.47 463.02zM171.66 468.69L175.06 462.94L168.26 462.94zM181.98 468.62L185.38 462.87L178.58 462.87zM190.53 468.57L193.93 462.82L187.13 462.82zM198.49 468.52L201.89 462.77L195.09 462.77zM206.15 468.47L209.55 462.72L202.75 462.72zM213.23 468.42L216.63 462.67L209.83 462.67zM220.3 468.37L223.7 462.62L216.9 462.62zM227.08 468.33L230.48 462.58L223.68 462.58zM233.57 467.57L236.97 461.82L230.17 461.82zM239.76 466.01L243.16 460.26L236.36 460.26zM245.65 464.53L249.05 458.78L242.25 458.78zM251.26 463.66L254.66 457.91L247.86 457.91zM256.56 462.85L259.96 457.1L253.16 457.1zM261.87 462.05L265.27 456.3L258.47 456.3zM266.88 461.29L270.28 455.54L263.48 455.54zM271.89 460.53L275.29 454.78L268.49 454.78zM276.61 459.82L280.01 454.07L273.21 454.07zM281.33 459.1L284.73 453.35L277.93 453.35zM286.04 458.39L289.44 452.64L282.64 452.64zM290.46 457.72L293.86 451.97L287.06 451.97zM294.89 457.05L298.29 451.3L291.49 451.3zM299.01 456.42L302.41 450.67L295.61 450.67zM303.14 455.8L306.54 450.05L299.74 450.05zM306.97 455.22L310.37 449.47L303.57 449.47zM310.81 454.64L314.21 448.89L307.41 448.89zM314.34 454.1L317.74 448.35L310.94 448.35z" fill="#ff2012"/>
<path d="M53.74 465.1L65.53 465.18L83.22 465.3L100.91 465.43L118.6 465.55L139.23 465.69L159.87 465.89L171.66 466.01L181.98 466.11L190.53 466.19L198.49 466.27L206.15 466.34L213.23 466.41L220.3 466.48L227.08 466.55L233.57 466.92L239.76 467.64L245.65 468.32L251.26 468.45L256.56 468.54L261.87 468.63L266.88 468.72L271.89 468.81L276.61 468.89L281.33 468.97L286.04 469.05L290.46 469.13L294.89 469.2L299.01 469.27L303.14 469.35L306.97 469.41L310.81 469.48L314.34 469.54" fill="none" stroke="#ff2012" stroke-width="1.15" stroke-linejoin="round"/>
<path d="M53.74 466.58V463.62M51.14 466.58h5.2M51.14 463.62h5.2M65.53 466.66V463.7M62.93 466.66h5.2M62.93 463.7h5.2M83.22 466.78V463.82M80.62 466.78h5.2M80.62 463.82h5.2M100.91 466.91V463.95M98.31 466.91h5.2M98.31 463.95h5.2M118.6 467.03V464.07M116 467.03h5.2M116 464.07h5.2M139.23 467.17V464.21M136.63 467.17h5.2M136.63 464.21h5.2M159.87 467.37V464.41M157.27 467.37h5.2M157.27 464.41h5.2M171.66 467.49V464.53M169.06 467.49h5.2M169.06 464.53h5.2M181.98 467.59V464.63M179.38 467.59h5.2M179.38 464.63h5.2M190.53 467.67V464.71M187.93 467.67h5.2M187.93 464.71h5.2M198.49 467.75V464.79M195.89 467.75h5.2M195.89 464.79h5.2M206.15 467.82V464.86M203.55 467.82h5.2M203.55 464.86h5.2M213.23 467.89V464.93M210.63 467.89h5.2M210.63 464.93h5.2M220.3 467.96V465M217.7 467.96h5.2M217.7 465h5.2M227.08 468.03V465.07M224.48 468.03h5.2M224.48 465.07h5.2M233.57 468.4V465.44M230.97 468.4h5.2M230.97 465.44h5.2M239.76 469.12V466.16M237.16 469.12h5.2M237.16 466.16h5.2M245.65 469.8V466.84M243.05 469.8h5.2M243.05 466.84h5.2M251.26 469.93V466.97M248.66 469.93h5.2M248.66 466.97h5.2M256.56 470.02V467.06M253.96 470.02h5.2M253.96 467.06h5.2M261.87 470.11V467.15M259.27 470.11h5.2M259.27 467.15h5.2M266.88 470.2V467.24M264.28 470.2h5.2M264.28 467.24h5.2M271.89 470.29V467.33M269.29 470.29h5.2M269.29 467.33h5.2M276.61 470.37V467.41M274.01 470.37h5.2M274.01 467.41h5.2M281.33 470.45V467.49M278.73 470.45h5.2M278.73 467.49h5.2M286.04 470.53V467.57M283.44 470.53h5.2M283.44 467.57h5.2M290.46 470.61V467.65M287.86 470.61h5.2M287.86 467.65h5.2M294.89 470.68V467.72M292.29 470.68h5.2M292.29 467.72h5.2M299.01 470.75V467.79M296.41 470.75h5.2M296.41 467.79h5.2M303.14 470.83V467.87M300.54 470.83h5.2M300.54 467.87h5.2M306.97 470.89V467.93M304.37 470.89h5.2M304.37 467.93h5.2M310.81 470.96V468M308.21 470.96h5.2M308.21 468h5.2M314.34 471.02V468.06M311.74 471.02h5.2M311.74 468.06h5.2" fill="none" stroke="#ff2012" stroke-width="1"/>
<path d="M53.74 461.5L56.94 465.1L53.74 468.7L50.54 465.1zM65.53 461.58L68.73 465.18L65.53 468.78L62.33 465.18zM83.22 461.7L86.42 465.3L83.22 468.9L80.02 465.3zM100.91 461.83L104.11 465.43L100.91 469.03L97.71 465.43zM118.6 461.95L121.8 465.55L118.6 469.15L115.4 465.55zM139.23 462.09L142.43 465.69L139.23 469.29L136.03 465.69zM159.87 462.29L163.07 465.89L159.87 469.49L156.67 465.89zM171.66 462.41L174.86 466.01L171.66 469.61L168.46 466.01zM181.98 462.51L185.18 466.11L181.98 469.71L178.78 466.11zM190.53 462.59L193.73 466.19L190.53 469.79L187.33 466.19zM198.49 462.67L201.69 466.27L198.49 469.87L195.29 466.27zM206.15 462.74L209.35 466.34L206.15 469.94L202.95 466.34zM213.23 462.81L216.43 466.41L213.23 470.01L210.03 466.41zM220.3 462.88L223.5 466.48L220.3 470.08L217.1 466.48zM227.08 462.95L230.28 466.55L227.08 470.15L223.88 466.55zM233.57 463.32L236.77 466.92L233.57 470.52L230.37 466.92zM239.76 464.04L242.96 467.64L239.76 471.24L236.56 467.64zM245.65 464.72L248.85 468.32L245.65 471.92L242.45 468.32zM251.26 464.85L254.46 468.45L251.26 472.05L248.06 468.45zM256.56 464.94L259.76 468.54L256.56 472.14L253.36 468.54zM261.87 465.03L265.07 468.63L261.87 472.23L258.67 468.63zM266.88 465.12L270.08 468.72L266.88 472.32L263.68 468.72zM271.89 465.21L275.09 468.81L271.89 472.41L268.69 468.81zM276.61 465.29L279.81 468.89L276.61 472.49L273.41 468.89zM281.33 465.37L284.53 468.97L281.33 472.57L278.13 468.97zM286.04 465.45L289.24 469.05L286.04 472.65L282.84 469.05zM290.46 465.53L293.66 469.13L290.46 472.73L287.26 469.13zM294.89 465.6L298.09 469.2L294.89 472.8L291.69 469.2zM299.01 465.67L302.21 469.27L299.01 472.87L295.81 469.27zM303.14 465.75L306.34 469.35L303.14 472.95L299.94 469.35zM306.97 465.81L310.17 469.41L306.97 473.01L303.77 469.41zM310.81 465.88L314.01 469.48L310.81 473.08L307.61 469.48zM314.34 465.94L317.54 469.54L314.34 473.14L311.14 469.54z" fill="#ff2012"/>
<path d="M53.74 465.1L65.53 474.87L83.22 473.98L100.91 471.32L118.6 471.02L139.23 447.04L159.87 401.46L171.66 391.69L181.98 386.26L190.53 383.04L198.49 383.97L206.15 377.32L213.23 376L220.3 379.09L227.08 377.59L233.57 375.48L239.76 376.45L245.65 381.25L251.26 380.06L256.56 380.26L261.87 377.25L266.88 378.57L271.89 381.77L276.61 382.56L281.33 377.13L286.04 382.01L290.46 380.49L294.89 381.06L299.01 378.09L303.14 380.83L306.97 378.57L310.81 379.34L314.34 382.99" fill="none" stroke="#1010ff" stroke-width="1.15" stroke-linejoin="round"/>
<path d="M53.74 473.98V456.22M51.14 473.98h5.2M51.14 456.22h5.2M65.53 483.75V465.99M62.93 483.75h5.2M62.93 465.99h5.2M83.22 482.86V465.1M80.62 482.86h5.2M80.62 465.1h5.2M100.91 480.2V462.44M98.31 480.2h5.2M98.31 462.44h5.2M118.6 479.9V462.14M116 479.9h5.2M116 462.14h5.2M139.23 455.92V438.16M136.63 455.92h5.2M136.63 438.16h5.2M159.87 410.34V392.58M157.27 410.34h5.2M157.27 392.58h5.2M171.66 400.57V382.81M169.06 400.57h5.2M169.06 382.81h5.2M181.98 395.14V377.38M179.38 395.14h5.2M179.38 377.38h5.2M190.53 391.92V374.16M187.93 391.92h5.2M187.93 374.16h5.2M198.49 392.85V375.09M195.89 392.85h5.2M195.89 375.09h5.2M206.15 386.2V368.44M203.55 386.2h5.2M203.55 368.44h5.2M213.23 384.88V367.12M210.63 384.88h5.2M210.63 367.12h5.2M220.3 387.97V370.21M217.7 387.97h5.2M217.7 370.21h5.2M227.08 386.47V368.71M224.48 386.47h5.2M224.48 368.71h5.2M233.57 384.36V366.6M230.97 384.36h5.2M230.97 366.6h5.2M239.76 385.33V367.57M237.16 385.33h5.2M237.16 367.57h5.2M245.65 390.13V372.37M243.05 390.13h5.2M243.05 372.37h5.2M251.26 388.94V371.18M248.66 388.94h5.2M248.66 371.18h5.2M256.56 389.14V371.38M253.96 389.14h5.2M253.96 371.38h5.2M261.87 386.13V368.37M259.27 386.13h5.2M259.27 368.37h5.2M266.88 387.45V369.69M264.28 387.45h5.2M264.28 369.69h5.2M271.89 390.65V372.89M269.29 390.65h5.2M269.29 372.89h5.2M276.61 391.44V373.68M274.01 391.44h5.2M274.01 373.68h5.2M281.33 386.01V368.25M278.73 386.01h5.2M278.73 368.25h5.2M286.04 390.89V373.13M283.44 390.89h5.2M283.44 373.13h5.2M290.46 389.37V371.61M287.86 389.37h5.2M287.86 371.61h5.2M294.89 389.94V372.18M292.29 389.94h5.2M292.29 372.18h5.2M299.01 386.97V369.21M296.41 386.97h5.2M296.41 369.21h5.2M303.14 389.71V371.95M300.54 389.71h5.2M300.54 371.95h5.2M306.97 387.45V369.69M304.37 387.45h5.2M304.37 369.69h5.2M310.81 388.22V370.46M308.21 388.22h5.2M308.21 370.46h5.2M314.34 391.87V374.11M311.74 391.87h5.2M311.74 374.11h5.2" fill="none" stroke="#1010ff" stroke-width="1"/>
<path d="M53.74 468.9L57.14 463.15L50.34 463.15zM65.53 478.67L68.93 472.92L62.13 472.92zM83.22 477.78L86.62 472.03L79.82 472.03zM100.91 475.12L104.31 469.37L97.51 469.37zM118.6 474.82L122 469.07L115.2 469.07zM139.23 450.84L142.63 445.09L135.83 445.09zM159.87 405.26L163.27 399.51L156.47 399.51zM171.66 395.49L175.06 389.74L168.26 389.74zM181.98 390.06L185.38 384.31L178.58 384.31zM190.53 386.84L193.93 381.09L187.13 381.09zM198.49 387.77L201.89 382.02L195.09 382.02zM206.15 381.12L209.55 375.37L202.75 375.37zM213.23 379.8L216.63 374.05L209.83 374.05zM220.3 382.89L223.7 377.14L216.9 377.14zM227.08 381.39L230.48 375.64L223.68 375.64zM233.57 379.28L236.97 373.53L230.17 373.53zM239.76 380.25L243.16 374.5L236.36 374.5zM245.65 385.05L249.05 379.3L242.25 379.3zM251.26 383.86L254.66 378.11L247.86 378.11zM256.56 384.06L259.96 378.31L253.16 378.31zM261.87 381.05L265.27 375.3L258.47 375.3zM266.88 382.37L270.28 376.62L263.48 376.62zM271.89 385.57L275.29 379.82L268.49 379.82zM276.61 386.36L280.01 380.61L273.21 380.61zM281.33 380.93L284.73 375.18L277.93 375.18zM286.04 385.81L289.44 380.06L282.64 380.06zM290.46 384.29L293.86 378.54L287.06 378.54zM294.89 384.86L298.29 379.11L291.49 379.11zM299.01 381.89L302.41 376.14L295.61 376.14zM303.14 384.63L306.54 378.88L299.74 378.88zM306.97 382.37L310.37 376.62L303.57 376.62zM310.81 383.14L314.21 377.39L307.41 377.39zM314.34 386.79L317.74 381.04L310.94 381.04z" fill="#1010ff"/>
<rect x="39" y="287.5" width="294.8" height="236.8" fill="none" stroke="#303030" stroke-width="1.25"/>
<path d="M53.74 524.3v-4.6 M112.7 524.3v-4.6 M171.66 524.3v-4.6 M230.62 524.3v-4.6 M289.58 524.3v-4.6 M83.22 524.3v-2.4 M142.18 524.3v-2.4 M201.14 524.3v-2.4 M260.1 524.3v-2.4 M319.06 524.3v-2.4 M39 524.3h4.6 M39 465.1h4.6 M39 405.9h4.6 M39 346.7h4.6 M39 287.5h4.6 M39 494.7h2.4 M39 435.5h2.4 M39 376.3h2.4 M39 317.1h2.4" stroke="#303030" stroke-width="1.1" fill="none"/>
<text x="53.74" y="539.3" text-anchor="middle" font-size="12.3">0</text>
<text x="112.7" y="539.3" text-anchor="middle" font-size="12.3">200</text>
<text x="171.66" y="539.3" text-anchor="middle" font-size="12.3">400</text>
<text x="230.62" y="539.3" text-anchor="middle" font-size="12.3">600</text>
<text x="289.58" y="539.3" text-anchor="middle" font-size="12.3">800</text>
<text x="33.4" y="528.1" text-anchor="end" font-size="12.3">−2</text>
<text x="33.4" y="468.9" text-anchor="end" font-size="12.3">0</text>
<text x="33.4" y="409.7" text-anchor="end" font-size="12.3">2</text>
<text x="33.4" y="350.5" text-anchor="end" font-size="12.3">4</text>
<text x="33.4" y="291.3" text-anchor="end" font-size="12.3">6</text>
<text x="131.5" y="554" font-size="13.5">True Stress (MPa)</text>
<text transform="translate(13.5,405.5) rotate(-90)" text-anchor="middle" font-size="13.6">Intergranular/interphase Strain (×10<tspan dy="-5.6" font-size="8.6">-3</tspan><tspan dy="5.6">)</tspan></text>
<text x="3.5" y="286.7" font-size="20">c</text>
<path d="M403.33 471.58L415.11 471.75L432.79 471.99L450.47 472.24L468.14 472.48L488.76 472.77L509.39 470.69L521.17 469.26L531.48 469.26L540.02 466.78L547.98 465.9L555.64 462.9L562.71 460.79L569.78 460.23L576.55 460.17L583.04 458.56L589.22 456.69L595.11 456.75L600.71 454.71L606.01 450.71L611.32 450.57L616.33 448.64L621.33 446.25L626.05 443.14L630.76 442.23L635.47 441.07L639.89 439.12L644.31 435.49L648.44 436.2L652.56 434.4L656.39 431.56L660.22 430.96L663.76 429.33" fill="none" stroke="#ff2012" stroke-width="1.15" stroke-linejoin="round"/>
<path d="M403.33 473.06V470.1M400.73 473.06h5.2M400.73 470.1h5.2M415.11 473.23V470.26M412.51 473.23h5.2M412.51 470.26h5.2M432.79 473.47V470.51M430.19 473.47h5.2M430.19 470.51h5.2M450.47 473.72V470.76M447.87 473.72h5.2M447.87 470.76h5.2M468.14 473.96V471M465.54 473.96h5.2M465.54 471h5.2M488.76 474.25V471.29M486.16 474.25h5.2M486.16 471.29h5.2M509.39 472.18V469.21M506.79 472.18h5.2M506.79 469.21h5.2M521.17 470.74V467.77M518.57 470.74h5.2M518.57 467.77h5.2M531.48 470.74V467.77M528.88 470.74h5.2M528.88 467.77h5.2M540.02 468.26V465.3M537.42 468.26h5.2M537.42 465.3h5.2M547.98 467.38V464.42M545.38 467.38h5.2M545.38 464.42h5.2M555.64 464.38V461.41M553.04 464.38h5.2M553.04 461.41h5.2M562.71 462.27V459.3M560.11 462.27h5.2M560.11 459.3h5.2M569.78 461.72V458.75M567.18 461.72h5.2M567.18 458.75h5.2M576.55 461.65V458.68M573.95 461.65h5.2M573.95 458.68h5.2M583.04 460.05V457.08M580.44 460.05h5.2M580.44 457.08h5.2M589.22 458.17V455.2M586.62 458.17h5.2M586.62 455.2h5.2M595.11 458.23V455.26M592.51 458.23h5.2M592.51 455.26h5.2M600.71 456.2V453.23M598.11 456.2h5.2M598.11 453.23h5.2M606.01 452.19V449.23M603.41 452.19h5.2M603.41 449.23h5.2M611.32 452.05V449.09M608.72 452.05h5.2M608.72 449.09h5.2M616.33 450.12V447.16M613.73 450.12h5.2M613.73 447.16h5.2M621.33 447.73V444.76M618.73 447.73h5.2M618.73 444.76h5.2M626.05 444.63V441.66M623.45 444.63h5.2M623.45 441.66h5.2M630.76 443.71V440.75M628.16 443.71h5.2M628.16 440.75h5.2M635.47 442.55V439.59M632.87 442.55h5.2M632.87 439.59h5.2M639.89 440.6V437.63M637.29 440.6h5.2M637.29 437.63h5.2M644.31 436.97V434.01M641.71 436.97h5.2M641.71 434.01h5.2M648.44 437.68V434.72M645.84 437.68h5.2M645.84 434.72h5.2M652.56 435.88V432.92M649.96 435.88h5.2M649.96 432.92h5.2M656.39 433.04V430.08M653.79 433.04h5.2M653.79 430.08h5.2M660.22 432.44V429.48M657.62 432.44h5.2M657.62 429.48h5.2M663.76 430.81V427.85M661.16 430.81h5.2M661.16 427.85h5.2" fill="none" stroke="#ff2012" stroke-width="1"/>
<path d="M400.73 468.98h5.2v5.2h-5.2zM412.51 469.15h5.2v5.2h-5.2zM430.19 469.39h5.2v5.2h-5.2zM447.87 469.64h5.2v5.2h-5.2zM465.54 469.88h5.2v5.2h-5.2zM486.16 470.17h5.2v5.2h-5.2zM506.79 468.09h5.2v5.2h-5.2zM518.57 466.66h5.2v5.2h-5.2zM528.88 466.66h5.2v5.2h-5.2zM537.42 464.18h5.2v5.2h-5.2zM545.38 463.3h5.2v5.2h-5.2zM553.04 460.3h5.2v5.2h-5.2zM560.11 458.19h5.2v5.2h-5.2zM567.18 457.63h5.2v5.2h-5.2zM573.95 457.57h5.2v5.2h-5.2zM580.44 455.96h5.2v5.2h-5.2zM586.62 454.09h5.2v5.2h-5.2zM592.51 454.15h5.2v5.2h-5.2zM598.11 452.11h5.2v5.2h-5.2zM603.41 448.11h5.2v5.2h-5.2zM608.72 447.97h5.2v5.2h-5.2zM613.73 446.04h5.2v5.2h-5.2zM618.73 443.65h5.2v5.2h-5.2zM623.45 440.54h5.2v5.2h-5.2zM628.16 439.63h5.2v5.2h-5.2zM632.87 438.47h5.2v5.2h-5.2zM637.29 436.52h5.2v5.2h-5.2zM641.71 432.89h5.2v5.2h-5.2zM645.84 433.6h5.2v5.2h-5.2zM649.96 431.8h5.2v5.2h-5.2zM653.79 428.96h5.2v5.2h-5.2zM657.62 428.36h5.2v5.2h-5.2zM661.16 426.73h5.2v5.2h-5.2z" fill="#ff2012"/>
<path d="M403.33 449.36L415.11 449.27L432.79 447.68L450.47 449.47L468.14 451.01L488.76 451.44L509.39 454.09L521.17 457.86L531.48 451.59L540.02 453.59L547.98 454.81L555.64 450.51L562.71 444.89L569.78 444.69L576.55 442.56L583.04 440.19L589.22 439.85L595.11 442.72L600.71 437.86L606.01 435.33L611.32 432.81L616.33 436.68L621.33 428.49L626.05 429.7L630.76 427.71L635.47 421.59L639.89 425.86L644.31 419.88L648.44 422.14L652.56 415.52L656.39 419.59L660.22 414.21L663.76 415.39" fill="none" stroke="#1010ff" stroke-width="1.15" stroke-linejoin="round"/>
<path d="M403.33 451.14V447.59M400.73 451.14h5.2M400.73 447.59h5.2M415.11 451.05V447.5M412.51 451.05h5.2M412.51 447.5h5.2M432.79 449.45V445.9M430.19 449.45h5.2M430.19 445.9h5.2M450.47 451.25V447.69M447.87 451.25h5.2M447.87 447.69h5.2M468.14 452.79V449.23M465.54 452.79h5.2M465.54 449.23h5.2M488.76 453.22V449.66M486.16 453.22h5.2M486.16 449.66h5.2M509.39 455.87V452.31M506.79 455.87h5.2M506.79 452.31h5.2M521.17 459.64V456.08M518.57 459.64h5.2M518.57 456.08h5.2M531.48 453.37V449.81M528.88 453.37h5.2M528.88 449.81h5.2M540.02 455.37V451.81M537.42 455.37h5.2M537.42 451.81h5.2M547.98 456.59V453.03M545.38 456.59h5.2M545.38 453.03h5.2M555.64 452.29V448.73M553.04 452.29h5.2M553.04 448.73h5.2M562.71 446.67V443.11M560.11 446.67h5.2M560.11 443.11h5.2M569.78 446.46V442.91M567.18 446.46h5.2M567.18 442.91h5.2M576.55 444.34V440.78M573.95 444.34h5.2M573.95 440.78h5.2M583.04 441.97V438.41M580.44 441.97h5.2M580.44 438.41h5.2M589.22 441.63V438.08M586.62 441.63h5.2M586.62 438.08h5.2M595.11 444.5V440.94M592.51 444.5h5.2M592.51 440.94h5.2M600.71 439.64V436.08M598.11 439.64h5.2M598.11 436.08h5.2M606.01 437.11V433.55M603.41 437.11h5.2M603.41 433.55h5.2M611.32 434.59V431.03M608.72 434.59h5.2M608.72 431.03h5.2M616.33 438.46V434.9M613.73 438.46h5.2M613.73 434.9h5.2M621.33 430.27V426.71M618.73 430.27h5.2M618.73 426.71h5.2M626.05 431.48V427.92M623.45 431.48h5.2M623.45 427.92h5.2M630.76 429.48V425.93M628.16 429.48h5.2M628.16 425.93h5.2M635.47 423.37V419.81M632.87 423.37h5.2M632.87 419.81h5.2M639.89 427.64V424.08M637.29 427.64h5.2M637.29 424.08h5.2M644.31 421.65V418.1M641.71 421.65h5.2M641.71 418.1h5.2M648.44 423.91V420.36M645.84 423.91h5.2M645.84 420.36h5.2M652.56 417.3V413.74M649.96 417.3h5.2M649.96 413.74h5.2M656.39 421.37V417.81M653.79 421.37h5.2M653.79 417.81h5.2M660.22 415.99V412.43M657.62 415.99h5.2M657.62 412.43h5.2M663.76 417.17V413.62M661.16 417.17h5.2M661.16 413.62h5.2" fill="none" stroke="#1010ff" stroke-width="1"/>
<path d="M400.73 446.76h5.2v5.2h-5.2zM412.51 446.67h5.2v5.2h-5.2zM430.19 445.08h5.2v5.2h-5.2zM447.87 446.87h5.2v5.2h-5.2zM465.54 448.41h5.2v5.2h-5.2zM486.16 448.84h5.2v5.2h-5.2zM506.79 451.49h5.2v5.2h-5.2zM518.57 455.26h5.2v5.2h-5.2zM528.88 448.99h5.2v5.2h-5.2zM537.42 450.99h5.2v5.2h-5.2zM545.38 452.21h5.2v5.2h-5.2zM553.04 447.91h5.2v5.2h-5.2zM560.11 442.29h5.2v5.2h-5.2zM567.18 442.09h5.2v5.2h-5.2zM573.95 439.96h5.2v5.2h-5.2zM580.44 437.59h5.2v5.2h-5.2zM586.62 437.25h5.2v5.2h-5.2zM592.51 440.12h5.2v5.2h-5.2zM598.11 435.26h5.2v5.2h-5.2zM603.41 432.73h5.2v5.2h-5.2zM608.72 430.21h5.2v5.2h-5.2zM613.73 434.08h5.2v5.2h-5.2zM618.73 425.89h5.2v5.2h-5.2zM623.45 427.1h5.2v5.2h-5.2zM628.16 425.11h5.2v5.2h-5.2zM632.87 418.99h5.2v5.2h-5.2zM637.29 423.26h5.2v5.2h-5.2zM641.71 417.28h5.2v5.2h-5.2zM645.84 419.54h5.2v5.2h-5.2zM649.96 412.92h5.2v5.2h-5.2zM653.79 416.99h5.2v5.2h-5.2zM657.62 411.61h5.2v5.2h-5.2zM661.16 412.79h5.2v5.2h-5.2z" fill="#1010ff"/>
<path d="M403.33 474.84L415.11 474.78L432.79 474.69L450.47 474.6L468.14 474.5L488.76 474.4L509.39 472.18L521.17 467.57L531.48 463.15L540.02 460.64L547.98 455.14L555.64 452.28L562.71 452.46L569.78 448.53L576.55 445.82L583.04 442.89L589.22 441.72L595.11 438.98L600.71 436L606.01 433.83L611.32 431.15L616.33 430.34L621.33 427.52L626.05 426.84L630.76 424.88L635.47 423.34L639.89 419.57L644.31 420L648.44 417.12L652.56 415.23L656.39 413.17L660.22 412.05L663.76 411.38" fill="none" stroke="#ff2012" stroke-width="1.15" stroke-linejoin="round"/>
<path d="M403.33 476.32V473.36M400.73 476.32h5.2M400.73 473.36h5.2M415.11 476.26V473.3M412.51 476.26h5.2M412.51 473.3h5.2M432.79 476.17V473.21M430.19 476.17h5.2M430.19 473.21h5.2M450.47 476.08V473.11M447.87 476.08h5.2M447.87 473.11h5.2M468.14 475.99V473.02M465.54 475.99h5.2M465.54 473.02h5.2M488.76 475.88V472.92M486.16 475.88h5.2M486.16 472.92h5.2M509.39 473.66V470.69M506.79 473.66h5.2M506.79 470.69h5.2M521.17 469.05V466.09M518.57 469.05h5.2M518.57 466.09h5.2M531.48 464.63V461.67M528.88 464.63h5.2M528.88 461.67h5.2M540.02 462.12V459.16M537.42 462.12h5.2M537.42 459.16h5.2M547.98 456.62V453.65M545.38 456.62h5.2M545.38 453.65h5.2M555.64 453.76V450.8M553.04 453.76h5.2M553.04 450.8h5.2M562.71 453.94V450.98M560.11 453.94h5.2M560.11 450.98h5.2M569.78 450.02V447.05M567.18 450.02h5.2M567.18 447.05h5.2M576.55 447.3V444.34M573.95 447.3h5.2M573.95 444.34h5.2M583.04 444.37V441.4M580.44 444.37h5.2M580.44 441.4h5.2M589.22 443.2V440.23M586.62 443.2h5.2M586.62 440.23h5.2M595.11 440.46V437.5M592.51 440.46h5.2M592.51 437.5h5.2M600.71 437.48V434.51M598.11 437.48h5.2M598.11 434.51h5.2M606.01 435.31V432.35M603.41 435.31h5.2M603.41 432.35h5.2M611.32 432.63V429.67M608.72 432.63h5.2M608.72 429.67h5.2M616.33 431.82V428.85M613.73 431.82h5.2M613.73 428.85h5.2M621.33 429V426.03M618.73 429h5.2M618.73 426.03h5.2M626.05 428.32V425.35M623.45 428.32h5.2M623.45 425.35h5.2M630.76 426.36V423.4M628.16 426.36h5.2M628.16 423.4h5.2M635.47 424.83V421.86M632.87 424.83h5.2M632.87 421.86h5.2M639.89 421.05V418.09M637.29 421.05h5.2M637.29 418.09h5.2M644.31 421.48V418.51M641.71 421.48h5.2M641.71 418.51h5.2M648.44 418.6V415.64M645.84 418.6h5.2M645.84 415.64h5.2M652.56 416.71V413.75M649.96 416.71h5.2M649.96 413.75h5.2M656.39 414.65V411.69M653.79 414.65h5.2M653.79 411.69h5.2M660.22 413.53V410.56M657.62 413.53h5.2M657.62 410.56h5.2M663.76 412.86V409.9M661.16 412.86h5.2M661.16 409.9h5.2" fill="none" stroke="#ff2012" stroke-width="1"/>
<path d="M400.53 474.84a2.8 2.8 0 1 0 5.6 0a2.8 2.8 0 1 0 -5.6 0zM412.31 474.78a2.8 2.8 0 1 0 5.6 0a2.8 2.8 0 1 0 -5.6 0zM429.99 474.69a2.8 2.8 0 1 0 5.6 0a2.8 2.8 0 1 0 -5.6 0zM447.67 474.6a2.8 2.8 0 1 0 5.6 0a2.8 2.8 0 1 0 -5.6 0zM465.34 474.5a2.8 2.8 0 1 0 5.6 0a2.8 2.8 0 1 0 -5.6 0zM485.96 474.4a2.8 2.8 0 1 0 5.6 0a2.8 2.8 0 1 0 -5.6 0zM506.59 472.18a2.8 2.8 0 1 0 5.6 0a2.8 2.8 0 1 0 -5.6 0zM518.37 467.57a2.8 2.8 0 1 0 5.6 0a2.8 2.8 0 1 0 -5.6 0zM528.68 463.15a2.8 2.8 0 1 0 5.6 0a2.8 2.8 0 1 0 -5.6 0zM537.22 460.64a2.8 2.8 0 1 0 5.6 0a2.8 2.8 0 1 0 -5.6 0zM545.18 455.14a2.8 2.8 0 1 0 5.6 0a2.8 2.8 0 1 0 -5.6 0zM552.84 452.28a2.8 2.8 0 1 0 5.6 0a2.8 2.8 0 1 0 -5.6 0zM559.91 452.46a2.8 2.8 0 1 0 5.6 0a2.8 2.8 0 1 0 -5.6 0zM566.98 448.53a2.8 2.8 0 1 0 5.6 0a2.8 2.8 0 1 0 -5.6 0zM573.75 445.82a2.8 2.8 0 1 0 5.6 0a2.8 2.8 0 1 0 -5.6 0zM580.24 442.89a2.8 2.8 0 1 0 5.6 0a2.8 2.8 0 1 0 -5.6 0zM586.42 441.72a2.8 2.8 0 1 0 5.6 0a2.8 2.8 0 1 0 -5.6 0zM592.31 438.98a2.8 2.8 0 1 0 5.6 0a2.8 2.8 0 1 0 -5.6 0zM597.91 436a2.8 2.8 0 1 0 5.6 0a2.8 2.8 0 1 0 -5.6 0zM603.21 433.83a2.8 2.8 0 1 0 5.6 0a2.8 2.8 0 1 0 -5.6 0zM608.52 431.15a2.8 2.8 0 1 0 5.6 0a2.8 2.8 0 1 0 -5.6 0zM613.53 430.34a2.8 2.8 0 1 0 5.6 0a2.8 2.8 0 1 0 -5.6 0zM618.53 427.52a2.8 2.8 0 1 0 5.6 0a2.8 2.8 0 1 0 -5.6 0zM623.25 426.84a2.8 2.8 0 1 0 5.6 0a2.8 2.8 0 1 0 -5.6 0zM627.96 424.88a2.8 2.8 0 1 0 5.6 0a2.8 2.8 0 1 0 -5.6 0zM632.67 423.34a2.8 2.8 0 1 0 5.6 0a2.8 2.8 0 1 0 -5.6 0zM637.09 419.57a2.8 2.8 0 1 0 5.6 0a2.8 2.8 0 1 0 -5.6 0zM641.51 420a2.8 2.8 0 1 0 5.6 0a2.8 2.8 0 1 0 -5.6 0zM645.64 417.12a2.8 2.8 0 1 0 5.6 0a2.8 2.8 0 1 0 -5.6 0zM649.76 415.23a2.8 2.8 0 1 0 5.6 0a2.8 2.8 0 1 0 -5.6 0zM653.59 413.17a2.8 2.8 0 1 0 5.6 0a2.8 2.8 0 1 0 -5.6 0zM657.42 412.05a2.8 2.8 0 1 0 5.6 0a2.8 2.8 0 1 0 -5.6 0zM660.96 411.38a2.8 2.8 0 1 0 5.6 0a2.8 2.8 0 1 0 -5.6 0z" fill="#ff2012"/>
<path d="M403.33 455.44L414.23 448.92L431.91 439.88L449.29 419.74L467.26 443.88L488.76 429.22L508.5 441.51L521.46 441.96L531.19 429.22L538.85 446.25L548.27 453.81L555.64 412.04L563 422.26L570.07 444.18L576.26 439.88L582.74 422.55L589.52 439.88L600.12 426.85L605.43 415.44L610.43 420.33L616.33 427.74L621.33 432.18L628.11 434.55L632.23 400.04L636.36 387.45L650.79 364.93L654.03 361.23L657.28 402.11L663.46 364.19" fill="none" stroke="#1010ff" stroke-width="1.15" stroke-linejoin="round"/>
<path d="M403.33 462.84V448.03M400.73 462.84h5.2M400.73 448.03h5.2M414.23 457.07V440.77M411.63 457.07h5.2M411.63 440.77h5.2M431.91 448.03V431.74M429.31 448.03h5.2M429.31 431.74h5.2M449.29 430.85V408.63M446.69 430.85h5.2M446.69 408.63h5.2M467.26 452.03V435.74M464.66 452.03h5.2M464.66 435.74h5.2M488.76 439.59V418.85M486.16 439.59h5.2M486.16 418.85h5.2M508.5 451.14V431.88M505.9 451.14h5.2M505.9 431.88h5.2M521.46 452.33V431.59M518.86 452.33h5.2M518.86 431.59h5.2M531.19 439.59V418.85M528.59 439.59h5.2M528.59 418.85h5.2M538.85 456.62V435.88M536.25 456.62h5.2M536.25 435.88h5.2M548.27 464.18V443.44M545.67 464.18h5.2M545.67 443.44h5.2M555.64 424.63V399.45M553.04 424.63h5.2M553.04 399.45h5.2M563 434.11V410.41M560.4 434.11h5.2M560.4 410.41h5.2M570.07 456.03V432.33M567.47 456.03h5.2M567.47 432.33h5.2M576.26 450.25V429.51M573.66 450.25h5.2M573.66 429.51h5.2M582.74 435.88V409.22M580.14 435.88h5.2M580.14 409.22h5.2M589.52 450.25V429.51M586.92 450.25h5.2M586.92 429.51h5.2M600.12 438.7V415M597.52 438.7h5.2M597.52 415h5.2M605.43 428.77V402.11M602.83 428.77h5.2M602.83 402.11h5.2M610.43 433.66V407M607.83 433.66h5.2M607.83 407h5.2M616.33 439.59V415.89M613.73 439.59h5.2M613.73 415.89h5.2M621.33 444.03V420.33M618.73 444.03h5.2M618.73 420.33h5.2M628.11 446.4V422.7M625.51 446.4h5.2M625.51 422.7h5.2M632.23 428.18V371.89M629.63 428.18h5.2M629.63 371.89h5.2M636.36 423V351.9M633.76 423h5.2M633.76 351.9h5.2M650.79 403.44V326.42M648.19 403.44h5.2M648.19 326.42h5.2M654.03 411.59V310.87M651.43 411.59h5.2M651.43 310.87h5.2M657.28 431.74V372.49M654.68 431.74h5.2M654.68 372.49h5.2M663.46 401.22V327.16M660.86 401.22h5.2M660.86 327.16h5.2" fill="none" stroke="#1010ff" stroke-width="1"/>
<path d="M400.53 455.44a2.8 2.8 0 1 0 5.6 0a2.8 2.8 0 1 0 -5.6 0zM411.43 448.92a2.8 2.8 0 1 0 5.6 0a2.8 2.8 0 1 0 -5.6 0zM429.11 439.88a2.8 2.8 0 1 0 5.6 0a2.8 2.8 0 1 0 -5.6 0zM446.49 419.74a2.8 2.8 0 1 0 5.6 0a2.8 2.8 0 1 0 -5.6 0zM464.46 443.88a2.8 2.8 0 1 0 5.6 0a2.8 2.8 0 1 0 -5.6 0zM485.96 429.22a2.8 2.8 0 1 0 5.6 0a2.8 2.8 0 1 0 -5.6 0zM505.7 441.51a2.8 2.8 0 1 0 5.6 0a2.8 2.8 0 1 0 -5.6 0zM518.66 441.96a2.8 2.8 0 1 0 5.6 0a2.8 2.8 0 1 0 -5.6 0zM528.39 429.22a2.8 2.8 0 1 0 5.6 0a2.8 2.8 0 1 0 -5.6 0zM536.05 446.25a2.8 2.8 0 1 0 5.6 0a2.8 2.8 0 1 0 -5.6 0zM545.47 453.81a2.8 2.8 0 1 0 5.6 0a2.8 2.8 0 1 0 -5.6 0zM552.84 412.04a2.8 2.8 0 1 0 5.6 0a2.8 2.8 0 1 0 -5.6 0zM560.2 422.26a2.8 2.8 0 1 0 5.6 0a2.8 2.8 0 1 0 -5.6 0zM567.27 444.18a2.8 2.8 0 1 0 5.6 0a2.8 2.8 0 1 0 -5.6 0zM573.46 439.88a2.8 2.8 0 1 0 5.6 0a2.8 2.8 0 1 0 -5.6 0zM579.94 422.55a2.8 2.8 0 1 0 5.6 0a2.8 2.8 0 1 0 -5.6 0zM586.72 439.88a2.8 2.8 0 1 0 5.6 0a2.8 2.8 0 1 0 -5.6 0zM597.32 426.85a2.8 2.8 0 1 0 5.6 0a2.8 2.8 0 1 0 -5.6 0zM602.63 415.44a2.8 2.8 0 1 0 5.6 0a2.8 2.8 0 1 0 -5.6 0zM607.63 420.33a2.8 2.8 0 1 0 5.6 0a2.8 2.8 0 1 0 -5.6 0zM613.53 427.74a2.8 2.8 0 1 0 5.6 0a2.8 2.8 0 1 0 -5.6 0zM618.53 432.18a2.8 2.8 0 1 0 5.6 0a2.8 2.8 0 1 0 -5.6 0zM625.31 434.55a2.8 2.8 0 1 0 5.6 0a2.8 2.8 0 1 0 -5.6 0zM629.43 400.04a2.8 2.8 0 1 0 5.6 0a2.8 2.8 0 1 0 -5.6 0zM633.56 387.45a2.8 2.8 0 1 0 5.6 0a2.8 2.8 0 1 0 -5.6 0zM647.99 364.93a2.8 2.8 0 1 0 5.6 0a2.8 2.8 0 1 0 -5.6 0zM651.23 361.23a2.8 2.8 0 1 0 5.6 0a2.8 2.8 0 1 0 -5.6 0zM654.48 402.11a2.8 2.8 0 1 0 5.6 0a2.8 2.8 0 1 0 -5.6 0zM660.66 364.19a2.8 2.8 0 1 0 5.6 0a2.8 2.8 0 1 0 -5.6 0z" fill="#1010ff"/>
<path d="M403.33 484.62L415.11 484.85L432.79 485.21L450.47 484.93L468.14 484.65L488.76 484.32L509.39 481.7L521.17 479.73L531.48 478.61L540.02 474.8L547.98 472.7L555.64 468.85L562.71 466.18L569.78 463.98L576.55 460.41L583.04 457.87L589.22 457.95L595.11 455.43L600.71 455.63L606.01 454.92L611.32 452.49L616.33 452.07L621.33 450.87L626.05 450.34L630.76 448.08L635.47 449.18L639.89 446.32L644.31 447.24L648.44 445.74L652.56 445.46L656.39 444.79L660.22 443.22L663.76 441.62" fill="none" stroke="#ff2012" stroke-width="1.15" stroke-linejoin="round"/>
<path d="M403.33 486.1V483.14M400.73 486.1h5.2M400.73 483.14h5.2M415.11 486.34V483.37M412.51 486.34h5.2M412.51 483.37h5.2M432.79 486.69V483.73M430.19 486.69h5.2M430.19 483.73h5.2M450.47 486.41V483.45M447.87 486.41h5.2M447.87 483.45h5.2M468.14 486.13V483.17M465.54 486.13h5.2M465.54 483.17h5.2M488.76 485.8V482.84M486.16 485.8h5.2M486.16 482.84h5.2M509.39 483.19V480.22M506.79 483.19h5.2M506.79 480.22h5.2M521.17 481.21V478.25M518.57 481.21h5.2M518.57 478.25h5.2M531.48 480.09V477.13M528.88 480.09h5.2M528.88 477.13h5.2M540.02 476.28V473.32M537.42 476.28h5.2M537.42 473.32h5.2M547.98 474.18V471.22M545.38 474.18h5.2M545.38 471.22h5.2M555.64 470.33V467.37M553.04 470.33h5.2M553.04 467.37h5.2M562.71 467.66V464.7M560.11 467.66h5.2M560.11 464.7h5.2M569.78 465.46V462.49M567.18 465.46h5.2M567.18 462.49h5.2M576.55 461.89V458.93M573.95 461.89h5.2M573.95 458.93h5.2M583.04 459.35V456.38M580.44 459.35h5.2M580.44 456.38h5.2M589.22 459.43V456.47M586.62 459.43h5.2M586.62 456.47h5.2M595.11 456.92V453.95M592.51 456.92h5.2M592.51 453.95h5.2M600.71 457.11V454.15M598.11 457.11h5.2M598.11 454.15h5.2M606.01 456.4V453.44M603.41 456.4h5.2M603.41 453.44h5.2M611.32 453.97V451.01M608.72 453.97h5.2M608.72 451.01h5.2M616.33 453.55V450.59M613.73 453.55h5.2M613.73 450.59h5.2M621.33 452.35V449.39M618.73 452.35h5.2M618.73 449.39h5.2M626.05 451.82V448.86M623.45 451.82h5.2M623.45 448.86h5.2M630.76 449.56V446.6M628.16 449.56h5.2M628.16 446.6h5.2M635.47 450.66V447.7M632.87 450.66h5.2M632.87 447.7h5.2M639.89 447.8V444.84M637.29 447.8h5.2M637.29 444.84h5.2M644.31 448.72V445.76M641.71 448.72h5.2M641.71 445.76h5.2M648.44 447.22V444.25M645.84 447.22h5.2M645.84 444.25h5.2M652.56 446.94V443.98M649.96 446.94h5.2M649.96 443.98h5.2M656.39 446.27V443.31M653.79 446.27h5.2M653.79 443.31h5.2M660.22 444.7V441.74M657.62 444.7h5.2M657.62 441.74h5.2M663.76 443.1V440.14M661.16 443.1h5.2M661.16 440.14h5.2" fill="none" stroke="#ff2012" stroke-width="1"/>
<path d="M403.33 480.82L406.73 486.57L399.93 486.57zM415.11 481.05L418.51 486.8L411.71 486.8zM432.79 481.41L436.19 487.16L429.39 487.16zM450.47 481.13L453.87 486.88L447.07 486.88zM468.14 480.85L471.54 486.6L464.74 486.6zM488.76 480.52L492.16 486.27L485.36 486.27zM509.39 477.9L512.79 483.65L505.99 483.65zM521.17 475.93L524.57 481.68L517.77 481.68zM531.48 474.81L534.88 480.56L528.08 480.56zM540.02 471L543.42 476.75L536.62 476.75zM547.98 468.9L551.38 474.65L544.58 474.65zM555.64 465.05L559.04 470.8L552.24 470.8zM562.71 462.38L566.11 468.13L559.31 468.13zM569.78 460.18L573.18 465.93L566.38 465.93zM576.55 456.61L579.95 462.36L573.15 462.36zM583.04 454.07L586.44 459.82L579.64 459.82zM589.22 454.15L592.62 459.9L585.82 459.9zM595.11 451.63L598.51 457.38L591.71 457.38zM600.71 451.83L604.11 457.58L597.31 457.58zM606.01 451.12L609.41 456.87L602.61 456.87zM611.32 448.69L614.72 454.44L607.92 454.44zM616.33 448.27L619.73 454.02L612.93 454.02zM621.33 447.07L624.73 452.82L617.93 452.82zM626.05 446.54L629.45 452.29L622.65 452.29zM630.76 444.28L634.16 450.03L627.36 450.03zM635.47 445.38L638.87 451.13L632.07 451.13zM639.89 442.52L643.29 448.27L636.49 448.27zM644.31 443.44L647.71 449.19L640.91 449.19zM648.44 441.94L651.84 447.69L645.04 447.69zM652.56 441.66L655.96 447.41L649.16 447.41zM656.39 440.99L659.79 446.74L652.99 446.74zM660.22 439.42L663.62 445.17L656.82 445.17zM663.76 437.82L667.16 443.57L660.36 443.57z" fill="#ff2012"/>
<path d="M403.33 455.29L415.11 458.84L432.79 461.95L450.47 461.81L468.14 460.32L488.76 461.81L509.39 470.01L521.17 462.25L531.48 454.52L540.02 454.41L547.98 453.54L555.64 459.1L562.71 451.82L569.78 455.53L576.55 453.44L583.04 447.38L589.22 452.4L595.11 445.56L600.71 446.48L606.01 449.58L611.32 449.22L616.33 445.4L621.33 445.2L626.05 446.57L630.76 443.55L635.47 444.95L639.89 438.38L644.31 436.62L648.44 438.24L652.56 440.67L656.39 434.35L660.22 435.88L663.76 432.32" fill="none" stroke="#1010ff" stroke-width="1.15" stroke-linejoin="round"/>
<path d="M403.33 459.44V451.14M400.73 459.44h5.2M400.73 451.14h5.2M415.11 462.99V454.7M412.51 462.99h5.2M412.51 454.7h5.2M432.79 466.1V457.81M430.19 466.1h5.2M430.19 457.81h5.2M450.47 465.95V457.66M447.87 465.95h5.2M447.87 457.66h5.2M468.14 464.47V456.18M465.54 464.47h5.2M465.54 456.18h5.2M488.76 465.95V457.66M486.16 465.95h5.2M486.16 457.66h5.2M509.39 474.16V465.86M506.79 474.16h5.2M506.79 465.86h5.2M521.17 466.4V458.1M518.57 466.4h5.2M518.57 458.1h5.2M531.48 458.67V450.37M528.88 458.67h5.2M528.88 450.37h5.2M540.02 458.56V450.26M537.42 458.56h5.2M537.42 450.26h5.2M547.98 457.68V449.39M545.38 457.68h5.2M545.38 449.39h5.2M555.64 463.24V454.95M553.04 463.24h5.2M553.04 454.95h5.2M562.71 455.97V447.68M560.11 455.97h5.2M560.11 447.68h5.2M569.78 459.67V451.38M567.18 459.67h5.2M567.18 451.38h5.2M576.55 457.59V449.29M573.95 457.59h5.2M573.95 449.29h5.2M583.04 451.53V443.24M580.44 451.53h5.2M580.44 443.24h5.2M589.22 456.54V448.25M586.62 456.54h5.2M586.62 448.25h5.2M595.11 449.71V441.41M592.51 449.71h5.2M592.51 441.41h5.2M600.71 450.63V442.33M598.11 450.63h5.2M598.11 442.33h5.2M606.01 453.73V445.44M603.41 453.73h5.2M603.41 445.44h5.2M611.32 453.36V445.07M608.72 453.36h5.2M608.72 445.07h5.2M616.33 449.54V441.25M613.73 449.54h5.2M613.73 441.25h5.2M621.33 449.35V441.05M618.73 449.35h5.2M618.73 441.05h5.2M626.05 450.72V442.43M623.45 450.72h5.2M623.45 442.43h5.2M630.76 447.7V439.41M628.16 447.7h5.2M628.16 439.41h5.2M635.47 449.1V440.8M632.87 449.1h5.2M632.87 440.8h5.2M639.89 442.53V434.23M637.29 442.53h5.2M637.29 434.23h5.2M644.31 440.77V432.47M641.71 440.77h5.2M641.71 432.47h5.2M648.44 442.39V434.1M645.84 442.39h5.2M645.84 434.1h5.2M652.56 444.82V436.52M649.96 444.82h5.2M649.96 436.52h5.2M656.39 438.5V430.2M653.79 438.5h5.2M653.79 430.2h5.2M660.22 440.03V431.74M657.62 440.03h5.2M657.62 431.74h5.2M663.76 436.46V428.17M661.16 436.46h5.2M661.16 428.17h5.2" fill="none" stroke="#1010ff" stroke-width="1"/>
<path d="M403.33 451.49L406.73 457.24L399.93 457.24zM415.11 455.04L418.51 460.79L411.71 460.79zM432.79 458.15L436.19 463.9L429.39 463.9zM450.47 458.01L453.87 463.76L447.07 463.76zM468.14 456.52L471.54 462.27L464.74 462.27zM488.76 458.01L492.16 463.76L485.36 463.76zM509.39 466.21L512.79 471.96L505.99 471.96zM521.17 458.45L524.57 464.2L517.77 464.2zM531.48 450.72L534.88 456.47L528.08 456.47zM540.02 450.61L543.42 456.36L536.62 456.36zM547.98 449.74L551.38 455.49L544.58 455.49zM555.64 455.3L559.04 461.05L552.24 461.05zM562.71 448.02L566.11 453.77L559.31 453.77zM569.78 451.73L573.18 457.48L566.38 457.48zM576.55 449.64L579.95 455.39L573.15 455.39zM583.04 443.58L586.44 449.33L579.64 449.33zM589.22 448.6L592.62 454.35L585.82 454.35zM595.11 441.76L598.51 447.51L591.71 447.51zM600.71 442.68L604.11 448.43L597.31 448.43zM606.01 445.78L609.41 451.53L602.61 451.53zM611.32 445.42L614.72 451.17L607.92 451.17zM616.33 441.6L619.73 447.35L612.93 447.35zM621.33 441.4L624.73 447.15L617.93 447.15zM626.05 442.77L629.45 448.52L622.65 448.52zM630.76 439.75L634.16 445.5L627.36 445.5zM635.47 441.15L638.87 446.9L632.07 446.9zM639.89 434.58L643.29 440.33L636.49 440.33zM644.31 432.82L647.71 438.57L640.91 438.57zM648.44 434.44L651.84 440.19L645.04 440.19zM652.56 436.87L655.96 442.62L649.16 442.62zM656.39 430.55L659.79 436.3L652.99 436.3zM660.22 432.08L663.62 437.83L656.82 437.83zM663.76 428.52L667.16 434.27L660.36 434.27z" fill="#1010ff"/>
<path d="M403.33 486.99L415.11 487.17L432.79 487.43L450.47 487.15L468.14 486.87L488.76 486.54L509.39 482.41L521.17 479.64L531.48 476.83L540.02 474.96L547.98 469.75L555.64 467.18L562.71 465.57L569.78 463.43L576.55 460.19L583.04 458.1L589.22 456.01L595.11 454.18L600.71 452.59L606.01 451.74L611.32 449.9L616.33 449.24L621.33 446.88L626.05 446.22L630.76 444.7L635.47 444.14L639.89 443.28L644.31 442.19L648.44 441.25L652.56 440.57L656.39 438.17L660.22 437.44L663.76 437.23" fill="none" stroke="#ff2012" stroke-width="1.15" stroke-linejoin="round"/>
<path d="M403.33 488.47V485.51M400.73 488.47h5.2M400.73 485.51h5.2M415.11 488.65V485.68M412.51 488.65h5.2M412.51 485.68h5.2M432.79 488.91V485.95M430.19 488.91h5.2M430.19 485.95h5.2M450.47 488.63V485.67M447.87 488.63h5.2M447.87 485.67h5.2M468.14 488.35V485.39M465.54 488.35h5.2M465.54 485.39h5.2M488.76 488.02V485.06M486.16 488.02h5.2M486.16 485.06h5.2M509.39 483.89V480.92M506.79 483.89h5.2M506.79 480.92h5.2M521.17 481.12V478.16M518.57 481.12h5.2M518.57 478.16h5.2M531.48 478.31V475.34M528.88 478.31h5.2M528.88 475.34h5.2M540.02 476.45V473.48M537.42 476.45h5.2M537.42 473.48h5.2M547.98 471.23V468.27M545.38 471.23h5.2M545.38 468.27h5.2M555.64 468.66V465.7M553.04 468.66h5.2M553.04 465.7h5.2M562.71 467.05V464.09M560.11 467.05h5.2M560.11 464.09h5.2M569.78 464.91V461.95M567.18 464.91h5.2M567.18 461.95h5.2M576.55 461.67V458.71M573.95 461.67h5.2M573.95 458.71h5.2M583.04 459.58V456.62M580.44 459.58h5.2M580.44 456.62h5.2M589.22 457.49V454.53M586.62 457.49h5.2M586.62 454.53h5.2M595.11 455.66V452.7M592.51 455.66h5.2M592.51 452.7h5.2M600.71 454.07V451.11M598.11 454.07h5.2M598.11 451.11h5.2M606.01 453.22V450.26M603.41 453.22h5.2M603.41 450.26h5.2M611.32 451.38V448.42M608.72 451.38h5.2M608.72 448.42h5.2M616.33 450.72V447.75M613.73 450.72h5.2M613.73 447.75h5.2M621.33 448.37V445.4M618.73 448.37h5.2M618.73 445.4h5.2M626.05 447.7V444.74M623.45 447.7h5.2M623.45 444.74h5.2M630.76 446.18V443.22M628.16 446.18h5.2M628.16 443.22h5.2M635.47 445.63V442.66M632.87 445.63h5.2M632.87 442.66h5.2M639.89 444.76V441.8M637.29 444.76h5.2M637.29 441.8h5.2M644.31 443.67V440.71M641.71 443.67h5.2M641.71 440.71h5.2M648.44 442.74V439.77M645.84 442.74h5.2M645.84 439.77h5.2M652.56 442.05V439.09M649.96 442.05h5.2M649.96 439.09h5.2M656.39 439.65V436.69M653.79 439.65h5.2M653.79 436.69h5.2M660.22 438.92V435.96M657.62 438.92h5.2M657.62 435.96h5.2M663.76 438.71V435.75M661.16 438.71h5.2M661.16 435.75h5.2" fill="none" stroke="#ff2012" stroke-width="1"/>
<path d="M403.33 490.79L406.73 485.04L399.93 485.04zM415.11 490.97L418.51 485.22L411.71 485.22zM432.79 491.23L436.19 485.48L429.39 485.48zM450.47 490.95L453.87 485.2L447.07 485.2zM468.14 490.67L471.54 484.92L464.74 484.92zM488.76 490.34L492.16 484.59L485.36 484.59zM509.39 486.21L512.79 480.46L505.99 480.46zM521.17 483.44L524.57 477.69L517.77 477.69zM531.48 480.63L534.88 474.88L528.08 474.88zM540.02 478.76L543.42 473.01L536.62 473.01zM547.98 473.55L551.38 467.8L544.58 467.8zM555.64 470.98L559.04 465.23L552.24 465.23zM562.71 469.37L566.11 463.62L559.31 463.62zM569.78 467.23L573.18 461.48L566.38 461.48zM576.55 463.99L579.95 458.24L573.15 458.24zM583.04 461.9L586.44 456.15L579.64 456.15zM589.22 459.81L592.62 454.06L585.82 454.06zM595.11 457.98L598.51 452.23L591.71 452.23zM600.71 456.39L604.11 450.64L597.31 450.64zM606.01 455.54L609.41 449.79L602.61 449.79zM611.32 453.7L614.72 447.95L607.92 447.95zM616.33 453.04L619.73 447.29L612.93 447.29zM621.33 450.68L624.73 444.93L617.93 444.93zM626.05 450.02L629.45 444.27L622.65 444.27zM630.76 448.5L634.16 442.75L627.36 442.75zM635.47 447.94L638.87 442.19L632.07 442.19zM639.89 447.08L643.29 441.33L636.49 441.33zM644.31 445.99L647.71 440.24L640.91 440.24zM648.44 445.05L651.84 439.3L645.04 439.3zM652.56 444.37L655.96 438.62L649.16 438.62zM656.39 441.97L659.79 436.22L652.99 436.22zM660.22 441.24L663.62 435.49L656.82 435.49zM663.76 441.03L667.16 435.28L660.36 435.28z" fill="#ff2012"/>
<path d="M403.33 495.28L415.11 495.28L432.79 495.28L450.47 495.28L468.14 495.28L488.76 495.28L509.39 491.95L521.17 490.43L531.48 488.18L540.02 486.27L547.98 485.39L555.64 483.86L562.71 482.42L569.78 480.97L576.55 479.38L583.04 477.84L589.22 476.38L595.11 474.98L600.71 473.55L606.01 472.19L611.32 470.83L616.33 469.54L621.33 468.26L626.05 467.05L630.76 465.84L635.47 464.63L639.89 463.49L644.31 462.36L648.44 461.3L652.56 460.24L656.39 459.25L660.22 458.27L663.76 457.36" fill="none" stroke="#ff2012" stroke-width="1.15" stroke-linejoin="round"/>
<path d="M403.33 496.02V494.54M400.73 496.02h5.2M400.73 494.54h5.2M415.11 496.02V494.54M412.51 496.02h5.2M412.51 494.54h5.2M432.79 496.02V494.54M430.19 496.02h5.2M430.19 494.54h5.2M450.47 496.02V494.54M447.87 496.02h5.2M447.87 494.54h5.2M468.14 496.02V494.54M465.54 496.02h5.2M465.54 494.54h5.2M488.76 496.02V494.54M486.16 496.02h5.2M486.16 494.54h5.2M509.39 492.69V491.21M506.79 492.69h5.2M506.79 491.21h5.2M521.17 491.17V489.69M518.57 491.17h5.2M518.57 489.69h5.2M531.48 488.92V487.44M528.88 488.92h5.2M528.88 487.44h5.2M540.02 487.01V485.52M537.42 487.01h5.2M537.42 485.52h5.2M547.98 486.13V484.65M545.38 486.13h5.2M545.38 484.65h5.2M555.64 484.6V483.12M553.04 484.6h5.2M553.04 483.12h5.2M562.71 483.16V481.68M560.11 483.16h5.2M560.11 481.68h5.2M569.78 481.72V480.23M567.18 481.72h5.2M567.18 480.23h5.2M576.55 480.12V478.64M573.95 480.12h5.2M573.95 478.64h5.2M583.04 478.58V477.1M580.44 478.58h5.2M580.44 477.1h5.2M589.22 477.12V475.64M586.62 477.12h5.2M586.62 475.64h5.2M595.11 475.72V474.24M592.51 475.72h5.2M592.51 474.24h5.2M600.71 474.3V472.81M598.11 474.3h5.2M598.11 472.81h5.2M606.01 472.93V471.45M603.41 472.93h5.2M603.41 471.45h5.2M611.32 471.57V470.09M608.72 471.57h5.2M608.72 470.09h5.2M616.33 470.29V468.8M613.73 470.29h5.2M613.73 468.8h5.2M621.33 469V467.52M618.73 469h5.2M618.73 467.52h5.2M626.05 467.79V466.31M623.45 467.79h5.2M623.45 466.31h5.2M630.76 466.58V465.1M628.16 466.58h5.2M628.16 465.1h5.2M635.47 465.37V463.89M632.87 465.37h5.2M632.87 463.89h5.2M639.89 464.23V462.75M637.29 464.23h5.2M637.29 462.75h5.2M644.31 463.1V461.62M641.71 463.1h5.2M641.71 461.62h5.2M648.44 462.04V460.56M645.84 462.04h5.2M645.84 460.56h5.2M652.56 460.98V459.5M649.96 460.98h5.2M649.96 459.5h5.2M656.39 459.99V458.51M653.79 459.99h5.2M653.79 458.51h5.2M660.22 459.01V457.53M657.62 459.01h5.2M657.62 457.53h5.2M663.76 458.1V456.62M661.16 458.1h5.2M661.16 456.62h5.2" fill="none" stroke="#ff2012" stroke-width="1"/>
<path d="M403.33 491.68L406.53 495.28L403.33 498.88L400.13 495.28zM415.11 491.68L418.31 495.28L415.11 498.88L411.91 495.28zM432.79 491.68L435.99 495.28L432.79 498.88L429.59 495.28zM450.47 491.68L453.67 495.28L450.47 498.88L447.27 495.28zM468.14 491.68L471.34 495.28L468.14 498.88L464.94 495.28zM488.76 491.68L491.96 495.28L488.76 498.88L485.56 495.28zM509.39 488.35L512.59 491.95L509.39 495.55L506.19 491.95zM521.17 486.83L524.37 490.43L521.17 494.03L517.97 490.43zM531.48 484.58L534.68 488.18L531.48 491.78L528.28 488.18zM540.02 482.67L543.22 486.27L540.02 489.87L536.82 486.27zM547.98 481.79L551.18 485.39L547.98 488.99L544.78 485.39zM555.64 480.26L558.84 483.86L555.64 487.46L552.44 483.86zM562.71 478.82L565.91 482.42L562.71 486.02L559.51 482.42zM569.78 477.37L572.98 480.97L569.78 484.57L566.58 480.97zM576.55 475.78L579.75 479.38L576.55 482.98L573.35 479.38zM583.04 474.24L586.24 477.84L583.04 481.44L579.84 477.84zM589.22 472.78L592.42 476.38L589.22 479.98L586.02 476.38zM595.11 471.38L598.31 474.98L595.11 478.58L591.91 474.98zM600.71 469.95L603.91 473.55L600.71 477.15L597.51 473.55zM606.01 468.59L609.21 472.19L606.01 475.79L602.81 472.19zM611.32 467.23L614.52 470.83L611.32 474.43L608.12 470.83zM616.33 465.94L619.53 469.54L616.33 473.14L613.13 469.54zM621.33 464.66L624.53 468.26L621.33 471.86L618.13 468.26zM626.05 463.45L629.25 467.05L626.05 470.65L622.85 467.05zM630.76 462.24L633.96 465.84L630.76 469.44L627.56 465.84zM635.47 461.03L638.67 464.63L635.47 468.23L632.27 464.63zM639.89 459.89L643.09 463.49L639.89 467.09L636.69 463.49zM644.31 458.76L647.51 462.36L644.31 465.96L641.11 462.36zM648.44 457.7L651.64 461.3L648.44 464.9L645.24 461.3zM652.56 456.64L655.76 460.24L652.56 463.84L649.36 460.24zM656.39 455.65L659.59 459.25L656.39 462.85L653.19 459.25zM660.22 454.67L663.42 458.27L660.22 461.87L657.02 458.27zM663.76 453.76L666.96 457.36L663.76 460.96L660.56 457.36z" fill="#ff2012"/>
<path d="M403.33 464.03L415.11 470.55L432.79 469.06L450.47 461.81L468.14 461.81L488.76 466.25L509.39 482.76L521.17 463.29L531.48 473.68L540.02 471.49L547.98 465.49L555.64 466.75L562.71 459.42L569.78 470.04L576.55 467.89L583.04 470.57L589.22 465.26L595.11 463.79L600.71 461.02L606.01 457.52L611.32 463.88L616.33 461.9L621.33 460.83L626.05 457.47L630.76 452.41L635.47 449.77L639.89 454.35L644.31 451.97L648.44 453.61L652.56 446.17L656.39 446.46L660.22 450.54L663.76 448.19" fill="none" stroke="#1010ff" stroke-width="1.15" stroke-linejoin="round"/>
<path d="M403.33 469.95V458.1M400.73 469.95h5.2M400.73 458.1h5.2M415.11 476.47V464.62M412.51 476.47h5.2M412.51 464.62h5.2M432.79 474.99V463.14M430.19 474.99h5.2M430.19 463.14h5.2M450.47 467.73V455.88M447.87 467.73h5.2M447.87 455.88h5.2M468.14 467.73V455.88M465.54 467.73h5.2M465.54 455.88h5.2M488.76 472.18V460.32M486.16 472.18h5.2M486.16 460.32h5.2M509.39 488.68V476.83M506.79 488.68h5.2M506.79 476.83h5.2M521.17 469.21V457.36M518.57 469.21h5.2M518.57 457.36h5.2M531.48 479.6V467.75M528.88 479.6h5.2M528.88 467.75h5.2M540.02 477.42V465.57M537.42 477.42h5.2M537.42 465.57h5.2M547.98 471.41V459.56M545.38 471.41h5.2M545.38 459.56h5.2M555.64 472.67V460.82M553.04 472.67h5.2M553.04 460.82h5.2M562.71 465.35V453.5M560.11 465.35h5.2M560.11 453.5h5.2M569.78 475.97V464.12M567.18 475.97h5.2M567.18 464.12h5.2M576.55 473.82V461.97M573.95 473.82h5.2M573.95 461.97h5.2M583.04 476.5V464.65M580.44 476.5h5.2M580.44 464.65h5.2M589.22 471.19V459.34M586.62 471.19h5.2M586.62 459.34h5.2M595.11 469.71V457.86M592.51 469.71h5.2M592.51 457.86h5.2M600.71 466.95V455.1M598.11 466.95h5.2M598.11 455.1h5.2M606.01 463.44V451.59M603.41 463.44h5.2M603.41 451.59h5.2M611.32 469.8V457.95M608.72 469.8h5.2M608.72 457.95h5.2M616.33 467.83V455.98M613.73 467.83h5.2M613.73 455.98h5.2M621.33 466.76V454.91M618.73 466.76h5.2M618.73 454.91h5.2M626.05 463.39V451.54M623.45 463.39h5.2M623.45 451.54h5.2M630.76 458.34V446.49M628.16 458.34h5.2M628.16 446.49h5.2M635.47 455.69V443.84M632.87 455.69h5.2M632.87 443.84h5.2M639.89 460.27V448.42M637.29 460.27h5.2M637.29 448.42h5.2M644.31 457.89V446.04M641.71 457.89h5.2M641.71 446.04h5.2M648.44 459.54V447.69M645.84 459.54h5.2M645.84 447.69h5.2M652.56 452.09V440.24M649.96 452.09h5.2M649.96 440.24h5.2M656.39 452.39V440.54M653.79 452.39h5.2M653.79 440.54h5.2M660.22 456.46V444.61M657.62 456.46h5.2M657.62 444.61h5.2M663.76 454.11V442.26M661.16 454.11h5.2M661.16 442.26h5.2" fill="none" stroke="#1010ff" stroke-width="1"/>
<path d="M403.33 467.83L406.73 462.08L399.93 462.08zM415.11 474.35L418.51 468.6L411.71 468.6zM432.79 472.86L436.19 467.11L429.39 467.11zM450.47 465.61L453.87 459.86L447.07 459.86zM468.14 465.61L471.54 459.86L464.74 459.86zM488.76 470.05L492.16 464.3L485.36 464.3zM509.39 486.56L512.79 480.81L505.99 480.81zM521.17 467.09L524.57 461.34L517.77 461.34zM531.48 477.48L534.88 471.73L528.08 471.73zM540.02 475.29L543.42 469.54L536.62 469.54zM547.98 469.29L551.38 463.54L544.58 463.54zM555.64 470.55L559.04 464.8L552.24 464.8zM562.71 463.22L566.11 457.47L559.31 457.47zM569.78 473.84L573.18 468.09L566.38 468.09zM576.55 471.69L579.95 465.94L573.15 465.94zM583.04 474.37L586.44 468.62L579.64 468.62zM589.22 469.06L592.62 463.31L585.82 463.31zM595.11 467.59L598.51 461.84L591.71 461.84zM600.71 464.82L604.11 459.07L597.31 459.07zM606.01 461.32L609.41 455.57L602.61 455.57zM611.32 467.68L614.72 461.93L607.92 461.93zM616.33 465.7L619.73 459.95L612.93 459.95zM621.33 464.63L624.73 458.88L617.93 458.88zM626.05 461.27L629.45 455.52L622.65 455.52zM630.76 456.21L634.16 450.46L627.36 450.46zM635.47 453.57L638.87 447.82L632.07 447.82zM639.89 458.15L643.29 452.4L636.49 452.4zM644.31 455.77L647.71 450.02L640.91 450.02zM648.44 457.41L651.84 451.66L645.04 451.66zM652.56 449.97L655.96 444.22L649.16 444.22zM656.39 450.26L659.79 444.51L652.99 444.51zM660.22 454.34L663.62 448.59L656.82 448.59zM663.76 451.99L667.16 446.24L660.36 446.24z" fill="#1010ff"/>
<rect x="388.6" y="288.5" width="294.6" height="237" fill="none" stroke="#303030" stroke-width="1.25"/>
<path d="M403.33 525.5v-4.6 M462.25 525.5v-4.6 M521.17 525.5v-4.6 M580.09 525.5v-4.6 M639.01 525.5v-4.6 M432.79 525.5v-2.4 M491.71 525.5v-2.4 M550.63 525.5v-2.4 M609.55 525.5v-2.4 M668.47 525.5v-2.4 M388.6 525.5h4.6 M388.6 495.88h4.6 M388.6 466.25h4.6 M388.6 436.62h4.6 M388.6 407h4.6 M388.6 377.38h4.6 M388.6 347.75h4.6 M388.6 318.12h4.6 M388.6 288.5h4.6 M388.6 510.69h2.4 M388.6 481.06h2.4 M388.6 451.44h2.4 M388.6 421.81h2.4 M388.6 392.19h2.4 M388.6 362.56h2.4 M388.6 332.94h2.4 M388.6 303.31h2.4" stroke="#303030" stroke-width="1.1" fill="none"/>
<text x="403.33" y="540.5" text-anchor="middle" font-size="12.3">0</text>
<text x="462.25" y="540.5" text-anchor="middle" font-size="12.3">200</text>
<text x="521.17" y="540.5" text-anchor="middle" font-size="12.3">400</text>
<text x="580.09" y="540.5" text-anchor="middle" font-size="12.3">600</text>
<text x="639.01" y="540.5" text-anchor="middle" font-size="12.3">800</text>
<text x="383" y="529.3" text-anchor="end" font-size="12.3">2</text>
<text x="383" y="499.68" text-anchor="end" font-size="12.3">4</text>
<text x="383" y="470.05" text-anchor="end" font-size="12.3">6</text>
<text x="383" y="440.43" text-anchor="end" font-size="12.3">8</text>
<text x="383" y="410.8" text-anchor="end" font-size="12.3">10</text>
<text x="383" y="381.18" text-anchor="end" font-size="12.3">12</text>
<text x="383" y="351.55" text-anchor="end" font-size="12.3">14</text>
<text x="383" y="321.93" text-anchor="end" font-size="12.3">16</text>
<text x="383" y="292.3" text-anchor="end" font-size="12.3">18</text>
<text x="482" y="554" font-size="13.5">True Stress (MPa)</text>
<text transform="translate(360,406.5) rotate(-90)" text-anchor="middle" font-size="13.8">FWHM/d (×10<tspan dy="-5.6" font-size="8.8">-3</tspan><tspan dy="5.6">)</tspan></text>
<text x="350.3" y="291.5" font-size="20">d</text>
</svg></body></html>
